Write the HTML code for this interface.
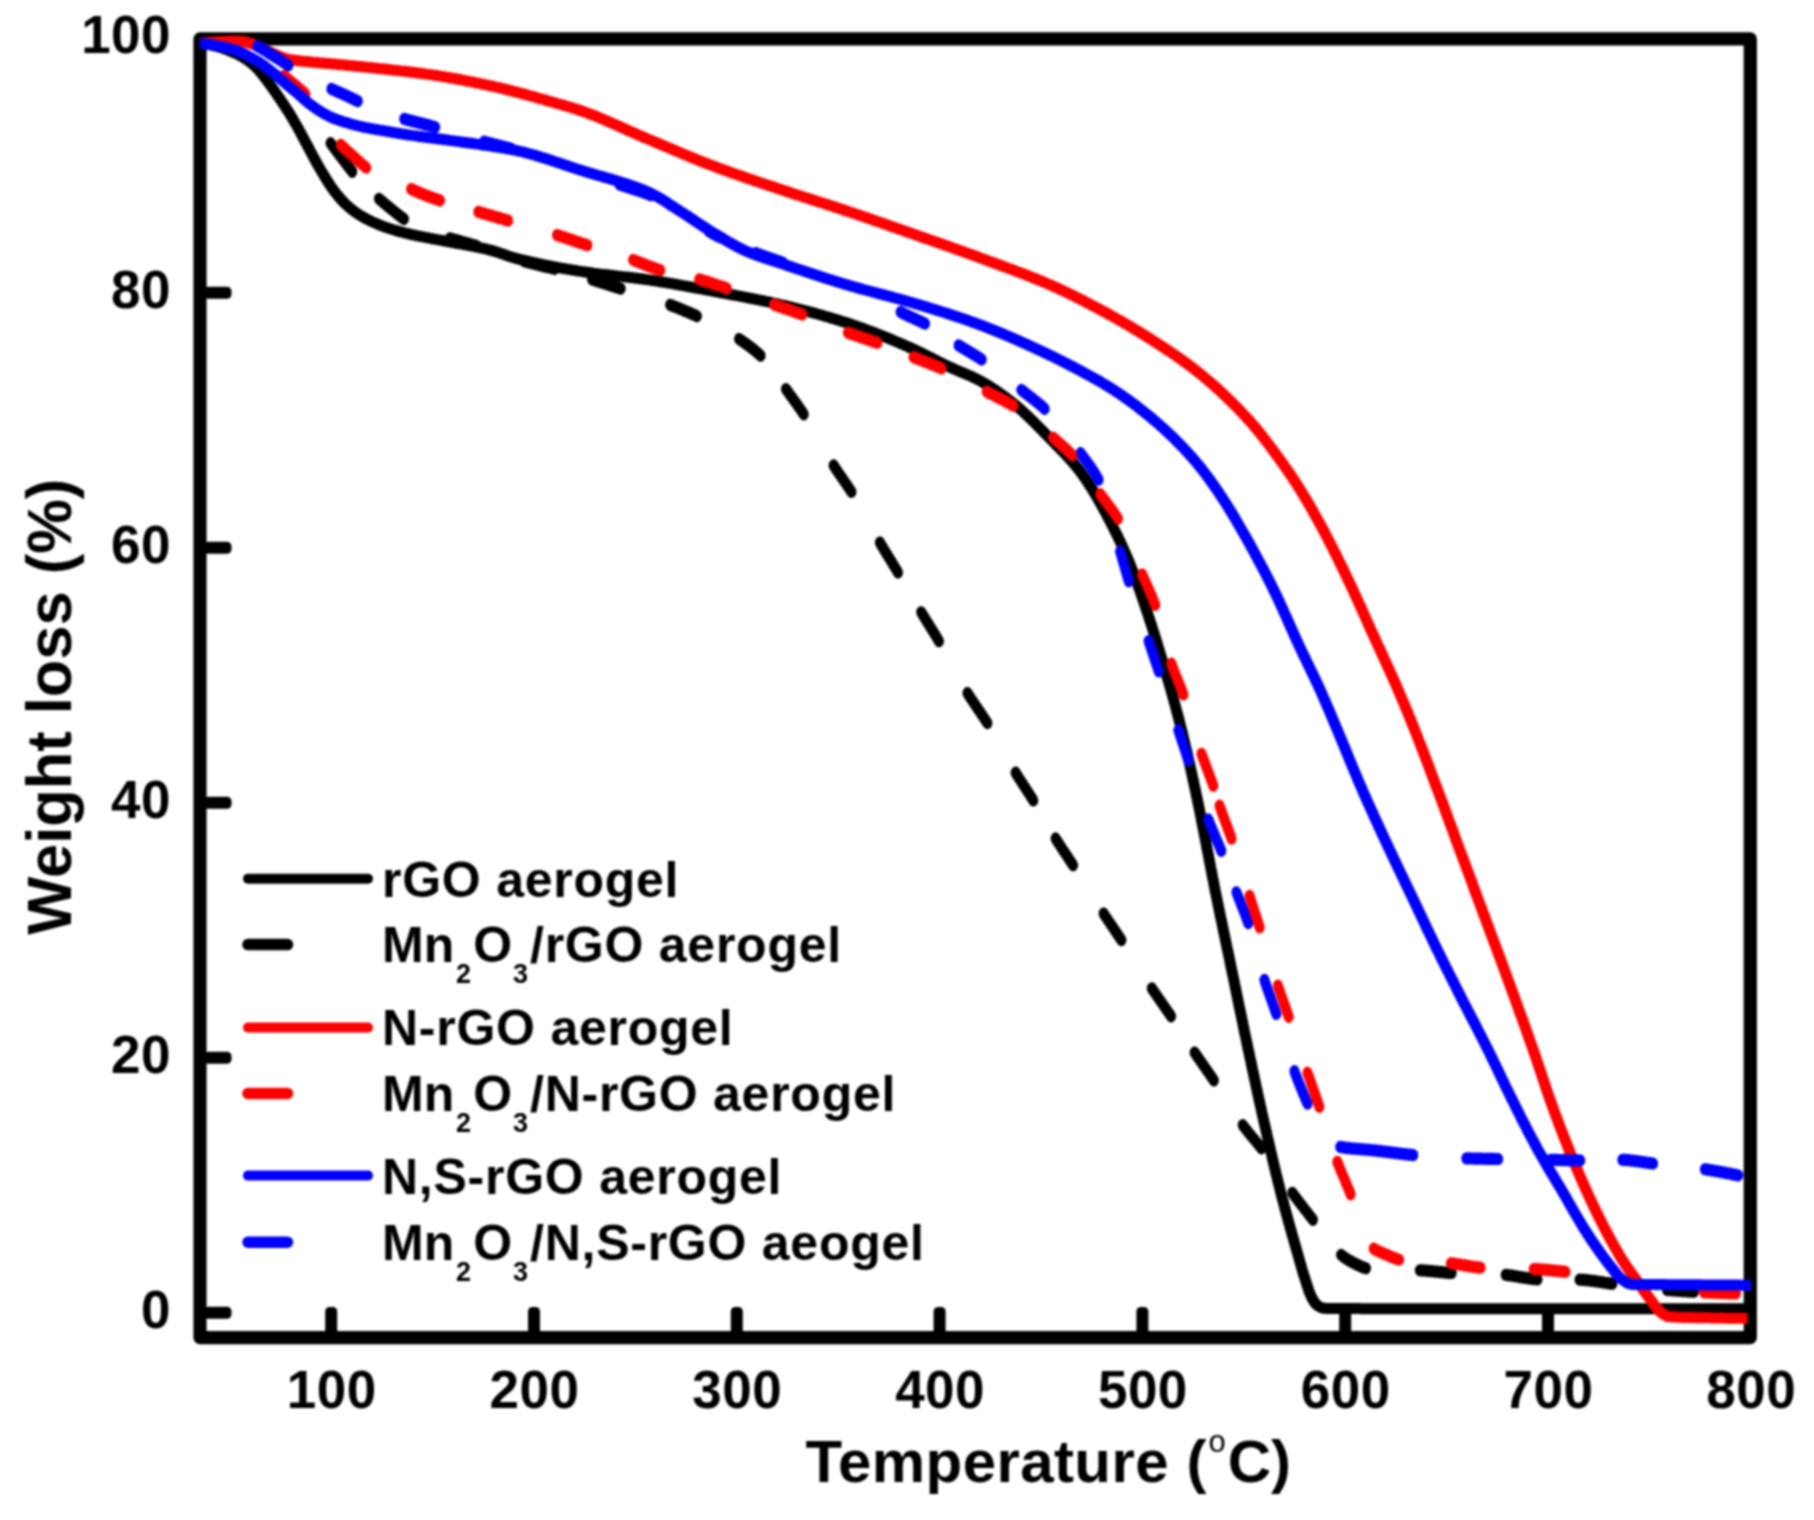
<!DOCTYPE html>
<html lang="en"><head><meta charset="utf-8"><title>TGA weight loss curves</title>
<style>html,body{margin:0;padding:0;background:#fff}svg{display:block;filter:blur(1px)}</style></head>
<body>
<svg width="1814" height="1520" viewBox="0 0 1814 1520">
<rect width="1814" height="1520" fill="#fff"/>
<g fill="#000">
<rect x="204" y="286.8" width="27.5" height="12" rx="4.5"/>
<rect x="204" y="541.8" width="27.5" height="12" rx="4.5"/>
<rect x="204" y="796.8" width="27.5" height="12" rx="4.5"/>
<rect x="204" y="1051.8" width="27.5" height="12" rx="4.5"/>
<rect x="204" y="1306.8" width="27.5" height="12" rx="4.5"/>
<rect x="325.2" y="1307" width="12" height="28" rx="4.5"/>
<rect x="528.0" y="1307" width="12" height="28" rx="4.5"/>
<rect x="730.8" y="1307" width="12" height="28" rx="4.5"/>
<rect x="933.6" y="1307" width="12" height="28" rx="4.5"/>
<rect x="1136.4" y="1307" width="12" height="28" rx="4.5"/>
<rect x="1339.2" y="1307" width="12" height="28" rx="4.5"/>
<rect x="1542.0" y="1307" width="12" height="28" rx="4.5"/>
</g>
<rect x="200.0" y="38.9" width="1550.3" height="1298.8" fill="none" stroke="#000" stroke-width="13.2" stroke-linejoin="round"/>
<clipPath id="pc"><rect x="199.6" y="30" width="1551.6" height="1312"/></clipPath>
<g clip-path="url(#pc)" fill="none" stroke-linejoin="round">
<g stroke-width="11.0" stroke-linecap="butt">
<path stroke="#000" d="M200.0 43.50L202.0 43.71L204.0 43.96L206.0 44.25L208.0 44.58L209.9 44.95L211.9 45.34L213.9 45.75L215.8 46.18L217.7 46.68L219.6 47.23L221.6 47.83L223.5 48.48L225.4 49.17L227.3 49.88L229.1 50.62L231.0 51.37L232.8 52.13L234.6 52.95L236.5 53.80L238.3 54.69L240.1 55.62L241.8 56.60L243.6 57.60L245.2 58.65L246.9 59.75L248.5 60.92L250.1 62.15L251.7 63.42L253.2 64.74L254.7 66.09L256.2 67.46L257.5 68.86L258.9 70.33L260.2 71.83L261.5 73.38L262.7 74.95L264.0 76.55L265.2 78.16L266.4 79.78L267.6 81.39L268.8 82.99L270.0 84.60L271.2 86.22L272.3 87.84L273.5 89.48L274.6 91.13L275.8 92.78L276.9 94.43L278.0 96.09L279.2 97.75L280.3 99.41L281.4 101.07L282.5 102.73L283.6 104.40L284.7 106.06L285.8 107.74L286.9 109.42L288.0 111.11L289.1 112.80L290.1 114.51L291.2 116.22L292.2 117.94L293.2 119.67L294.2 121.40L295.2 123.14L296.2 124.88L297.2 126.62L298.2 128.37L299.1 130.12L300.1 131.88L301.1 133.64L302.0 135.41L302.9 137.18L303.9 138.95L304.8 140.72L305.7 142.50L306.7 144.27L307.6 146.04L308.6 147.80L309.5 149.57L310.4 151.34L311.4 153.11L312.3 154.87L313.3 156.64L314.2 158.40L315.2 160.16L316.2 161.91L317.1 163.66L318.1 165.40L319.1 167.14L320.1 168.88L321.1 170.62L322.1 172.35L323.2 174.07L324.2 175.79L325.2 177.49L326.3 179.19L327.4 180.89L328.4 182.59L329.5 184.28L330.6 185.95L331.7 187.61L332.9 189.25L334.1 190.86L335.3 192.46L336.5 194.04L337.8 195.60L339.1 197.15L340.4 198.66L341.7 200.15L343.1 201.60L344.5 203.01L345.9 204.41L347.4 205.77L348.9 207.10L350.5 208.40L352.0 209.65L353.6 210.87L355.2 212.06L356.9 213.21L358.5 214.32L360.2 215.38L361.9 216.39L363.7 217.38L365.4 218.35L367.2 219.29L369.0 220.21L370.8 221.10L372.6 221.96L374.5 222.79L376.3 223.60L378.1 224.37L380.0 225.12L381.8 225.84L383.7 226.54L385.6 227.22L387.5 227.88L389.4 228.52L391.3 229.13L393.2 229.73L395.2 230.31L397.1 230.87L399.0 231.41L400.9 231.94L402.9 232.45L404.8 232.95L406.8 233.43L408.7 233.90L410.7 234.36L412.6 234.80L414.6 235.24L416.5 235.66L418.5 236.06L420.5 236.46L422.4 236.84L424.4 237.22L426.4 237.60L428.3 237.97L430.3 238.35L432.3 238.72L434.2 239.09L436.2 239.46L438.2 239.82L440.1 240.18L442.1 240.53L444.1 240.89L446.0 241.26L448.0 241.62L450.0 242.00L452.0 242.37L453.9 242.74L455.9 243.11L457.9 243.47L459.8 243.83L461.8 244.19L463.8 244.55L465.8 244.92L467.7 245.28L469.7 245.65L471.7 246.03L473.7 246.41L475.6 246.80L477.6 247.20L479.5 247.60L481.5 248.02L483.5 248.45L485.4 248.89L487.3 249.35L489.3 249.82L491.2 250.32L493.1 250.86L495.1 251.44L497.0 252.06L498.9 252.70L500.8 253.36L502.7 254.03L504.5 254.70L506.4 255.37L508.3 256.02L510.2 256.65L512.2 257.26L514.1 257.82L516.0 258.35L517.9 258.84L519.9 259.32L521.8 259.80L523.7 260.27L525.7 260.73L527.6 261.19L529.6 261.64L531.5 262.09L533.5 262.53L535.5 262.96L537.4 263.39L539.4 263.81L541.3 264.22L543.3 264.63L545.3 265.03L547.2 265.43L549.2 265.82L551.2 266.21L553.1 266.59L555.1 266.96L557.1 267.33L559.1 267.69L561.0 268.05L563.0 268.41L565.0 268.76L567.0 269.10L568.9 269.44L570.9 269.77L572.9 270.10L574.9 270.42L576.9 270.74L578.8 271.06L580.8 271.37L582.8 271.67L584.8 271.97L586.7 272.26L588.7 272.54L590.7 272.82L592.7 273.09L594.7 273.35L596.7 273.60L598.6 273.85L600.6 274.10L602.6 274.34L604.6 274.57L606.6 274.81L608.6 275.04L610.6 275.27L612.6 275.49L614.6 275.72L616.6 275.95L618.6 276.17L620.5 276.40L622.5 276.62L624.5 276.85L626.5 277.08L628.5 277.31L630.5 277.55L632.5 277.79L634.5 278.03L636.5 278.28L638.5 278.53L640.4 278.79L642.4 279.05L644.4 279.32L646.4 279.60L648.4 279.88L650.4 280.18L652.3 280.47L654.3 280.78L656.3 281.08L658.3 281.39L660.3 281.71L662.2 282.03L664.2 282.36L666.2 282.69L668.2 283.02L670.1 283.36L672.1 283.70L674.1 284.04L676.1 284.39L678.0 284.74L680.0 285.09L682.0 285.44L683.9 285.80L685.9 286.16L687.9 286.52L689.9 286.88L691.8 287.24L693.8 287.61L695.8 287.98L697.7 288.34L699.7 288.71L701.7 289.08L703.7 289.45L705.6 289.82L707.6 290.19L709.6 290.56L711.5 290.93L713.5 291.29L715.5 291.66L717.4 292.03L719.4 292.40L721.4 292.76L723.3 293.13L725.3 293.49L727.3 293.86L729.3 294.23L731.2 294.60L733.2 294.97L735.2 295.34L737.1 295.71L739.1 296.08L741.1 296.46L743.0 296.83L745.0 297.21L747.0 297.59L749.0 297.98L750.9 298.36L752.9 298.75L754.8 299.14L756.8 299.54L758.8 299.93L760.7 300.34L762.7 300.74L764.7 301.15L766.6 301.56L768.6 301.98L770.5 302.40L772.5 302.83L774.4 303.26L776.4 303.70L778.3 304.14L780.3 304.58L782.2 305.04L784.2 305.49L786.1 305.95L788.1 306.42L790.0 306.89L792.0 307.36L793.9 307.84L795.9 308.33L797.8 308.82L799.8 309.31L801.7 309.81L803.7 310.31L805.6 310.82L807.5 311.33L809.5 311.85L811.4 312.37L813.3 312.90L815.3 313.43L817.2 313.97L819.1 314.51L821.1 315.06L823.0 315.61L824.9 316.16L826.9 316.72L828.8 317.29L830.7 317.86L832.6 318.44L834.5 319.02L836.5 319.60L838.4 320.19L840.3 320.79L842.2 321.39L844.1 321.99L846.0 322.60L847.9 323.22L849.8 323.84L851.7 324.48L853.6 325.12L855.5 325.77L857.3 326.43L859.2 327.09L861.1 327.76L863.0 328.44L864.9 329.13L866.8 329.83L868.6 330.53L870.5 331.24L872.4 331.95L874.3 332.67L876.1 333.40L878.0 334.14L879.9 334.87L881.7 335.62L883.6 336.37L885.5 337.12L887.3 337.88L889.2 338.65L891.0 339.42L892.9 340.19L894.7 340.97L896.6 341.75L898.4 342.54L900.3 343.32L902.1 344.12L904.0 344.91L905.8 345.71L907.6 346.51L909.5 347.32L911.3 348.12L913.1 348.94L914.9 349.78L916.7 350.63L918.5 351.49L920.3 352.37L922.1 353.25L923.9 354.15L925.7 355.05L927.5 355.95L929.3 356.87L931.1 357.78L932.9 358.70L934.6 359.61L936.4 360.52L938.2 361.43L940.0 362.34L941.8 363.24L943.6 364.13L945.4 365.01L947.2 365.88L949.0 366.74L950.8 367.58L952.7 368.40L954.5 369.21L956.3 370.01L958.2 370.80L960.0 371.58L961.9 372.37L963.8 373.15L965.6 373.94L967.4 374.74L969.3 375.54L971.1 376.36L972.9 377.20L974.7 378.05L976.5 378.93L978.3 379.83L980.0 380.75L981.8 381.71L983.5 382.69L985.2 383.70L987.0 384.72L988.7 385.77L990.4 386.83L992.1 387.92L993.7 389.02L995.4 390.14L997.1 391.27L998.8 392.42L1000.4 393.58L1002.0 394.76L1003.7 395.94L1005.3 397.14L1006.9 398.35L1008.5 399.56L1010.1 400.79L1011.6 402.02L1013.2 403.26L1014.7 404.50L1016.3 405.77L1017.8 407.05L1019.3 408.35L1020.8 409.67L1022.3 411.00L1023.8 412.35L1025.2 413.71L1026.7 415.08L1028.2 416.46L1029.6 417.86L1031.0 419.26L1032.5 420.67L1033.9 422.09L1035.3 423.52L1036.7 424.95L1038.2 426.38L1039.6 427.82L1041.0 429.26L1042.4 430.70L1043.8 432.14L1045.2 433.58L1046.6 435.02L1048.0 436.45L1049.4 437.88L1050.8 439.31L1052.2 440.74L1053.6 442.17L1055.0 443.61L1056.4 445.04L1057.8 446.48L1059.3 447.92L1060.7 449.36L1062.1 450.81L1063.5 452.27L1064.9 453.73L1066.2 455.19L1067.6 456.67L1069.0 458.15L1070.3 459.64L1071.7 461.13L1073.0 462.64L1074.3 464.16L1075.5 465.69L1076.8 467.22L1078.0 468.78L1079.3 470.34L1080.4 471.92L1081.6 473.51L1082.8 475.11L1083.9 476.73L1085.0 478.36L1086.2 480.00L1087.3 481.65L1088.4 483.32L1089.4 484.99L1090.5 486.68L1091.6 488.38L1092.6 490.08L1093.7 491.79L1094.7 493.52L1095.8 495.24L1096.8 496.98L1097.8 498.72L1098.8 500.47L1099.8 502.23L1100.8 503.99L1101.8 505.75L1102.7 507.52L1103.7 509.29L1104.7 511.07L1105.6 512.85L1106.6 514.63L1107.5 516.41L1108.4 518.19L1109.4 519.98L1110.3 521.76L1111.2 523.54L1112.1 525.33L1113.0 527.11L1113.9 528.89L1114.8 530.67L1115.7 532.46L1116.6 534.25L1117.5 536.05L1118.4 537.86L1119.2 539.67L1120.1 541.48L1120.9 543.30L1121.8 545.12L1122.6 546.95L1123.4 548.78L1124.2 550.62L1125.0 552.46L1125.8 554.30L1126.6 556.14L1127.4 557.99L1128.2 559.83L1129.0 561.68L1129.7 563.54L1130.5 565.39L1131.2 567.25L1131.9 569.11L1132.7 570.97L1133.4 572.84L1134.1 574.71L1134.8 576.58L1135.5 578.46L1136.2 580.34L1136.9 582.22L1137.6 584.11L1138.2 586.00L1138.9 587.89L1139.6 589.78L1140.2 591.67L1140.9 593.56L1141.5 595.46L1142.2 597.36L1142.8 599.25L1143.5 601.15L1144.1 603.05L1144.8 604.95L1145.4 606.85L1146.0 608.75L1146.7 610.65L1147.3 612.55L1147.9 614.45L1148.6 616.35L1149.2 618.25L1149.8 620.16L1150.4 622.06L1151.1 623.97L1151.7 625.87L1152.3 627.78L1152.9 629.69L1153.5 631.60L1154.1 633.51L1154.7 635.43L1155.3 637.34L1155.9 639.25L1156.5 641.17L1157.1 643.08L1157.6 645.00L1158.2 646.92L1158.8 648.83L1159.4 650.75L1160.0 652.67L1160.5 654.59L1161.1 656.51L1161.7 658.43L1162.3 660.35L1162.8 662.27L1163.4 664.19L1164.0 666.11L1164.5 668.03L1165.1 669.95L1165.7 671.88L1166.2 673.80L1166.8 675.72L1167.3 677.65L1167.9 679.57L1168.5 681.50L1169.0 683.42L1169.6 685.35L1170.1 687.27L1170.7 689.20L1171.2 691.13L1171.8 693.06L1172.3 694.99L1172.8 696.92L1173.4 698.85L1173.9 700.78L1174.4 702.71L1175.0 704.64L1175.5 706.58L1176.0 708.51L1176.5 710.45L1177.0 712.38L1177.6 714.32L1178.1 716.26L1178.6 718.19L1179.1 720.13L1179.6 722.07L1180.1 724.01L1180.5 725.95L1181.0 727.90L1181.5 729.84L1182.0 731.78L1182.5 733.73L1182.9 735.67L1183.4 737.62L1183.9 739.57L1184.4 741.51L1184.8 743.46L1185.3 745.41L1185.7 747.36L1186.2 749.31L1186.7 751.26L1187.1 753.21L1187.6 755.17L1188.0 757.12L1188.5 759.07L1188.9 761.03L1189.3 762.98L1189.8 764.94L1190.2 766.89L1190.7 768.85L1191.1 770.80L1191.5 772.76L1192.0 774.72L1192.4 776.67L1192.8 778.63L1193.3 780.59L1193.7 782.55L1194.1 784.50L1194.5 786.46L1195.0 788.42L1195.4 790.38L1195.8 792.34L1196.2 794.30L1196.6 796.25L1197.0 798.21L1197.5 800.17L1197.9 802.13L1198.3 804.09L1198.7 806.06L1199.1 808.02L1199.5 809.98L1199.9 811.94L1200.3 813.91L1200.7 815.87L1201.1 817.84L1201.4 819.80L1201.8 821.77L1202.2 823.73L1202.6 825.70L1203.0 827.67L1203.4 829.63L1203.8 831.60L1204.2 833.56L1204.5 835.53L1204.9 837.50L1205.3 839.46L1205.7 841.43L1206.1 843.39L1206.5 845.36L1206.8 847.33L1207.2 849.29L1207.6 851.26L1208.0 853.23L1208.4 855.19L1208.7 857.16L1209.1 859.13L1209.5 861.10L1209.9 863.06L1210.2 865.03L1210.6 867.00L1211.0 868.97L1211.4 870.93L1211.8 872.90L1212.1 874.87L1212.5 876.83L1212.9 878.80L1213.3 880.77L1213.7 882.73L1214.0 884.70L1214.4 886.66L1214.8 888.63L1215.2 890.59L1215.6 892.56L1216.0 894.52L1216.4 896.48L1216.8 898.45L1217.2 900.41L1217.6 902.37L1218.0 904.34L1218.4 906.30L1218.8 908.26L1219.2 910.22L1219.6 912.18L1220.0 914.14L1220.4 916.11L1220.8 918.07L1221.3 920.03L1221.7 921.99L1222.1 923.95L1222.5 925.91L1222.9 927.87L1223.3 929.83L1223.7 931.79L1224.1 933.75L1224.5 935.71L1225.0 937.67L1225.4 939.63L1225.8 941.59L1226.2 943.56L1226.6 945.52L1227.0 947.48L1227.4 949.44L1227.8 951.40L1228.3 953.36L1228.7 955.32L1229.1 957.28L1229.5 959.24L1229.9 961.20L1230.3 963.16L1230.7 965.12L1231.1 967.08L1231.5 969.04L1231.9 971.01L1232.3 972.97L1232.8 974.93L1233.2 976.89L1233.6 978.85L1234.0 980.81L1234.4 982.78L1234.8 984.74L1235.2 986.70L1235.6 988.66L1236.0 990.62L1236.4 992.58L1236.8 994.55L1237.2 996.51L1237.6 998.47L1238.0 1000.43L1238.4 1002.39L1238.8 1004.36L1239.2 1006.32L1239.6 1008.28L1240.0 1010.24L1240.4 1012.20L1240.9 1014.17L1241.3 1016.13L1241.7 1018.09L1242.1 1020.05L1242.5 1022.01L1242.9 1023.97L1243.3 1025.93L1243.7 1027.89L1244.1 1029.86L1244.5 1031.82L1244.9 1033.78L1245.3 1035.74L1245.8 1037.70L1246.2 1039.66L1246.6 1041.62L1247.0 1043.58L1247.4 1045.54L1247.8 1047.50L1248.2 1049.46L1248.7 1051.42L1249.1 1053.37L1249.5 1055.33L1249.9 1057.29L1250.3 1059.25L1250.8 1061.21L1251.2 1063.17L1251.6 1065.13L1252.0 1067.09L1252.4 1069.05L1252.8 1071.01L1253.3 1072.96L1253.7 1074.92L1254.1 1076.88L1254.5 1078.84L1255.0 1080.80L1255.4 1082.76L1255.8 1084.71L1256.2 1086.67L1256.7 1088.63L1257.1 1090.59L1257.5 1092.54L1257.9 1094.50L1258.4 1096.46L1258.8 1098.41L1259.2 1100.37L1259.7 1102.33L1260.1 1104.28L1260.5 1106.24L1261.0 1108.20L1261.4 1110.15L1261.8 1112.11L1262.3 1114.06L1262.7 1116.01L1263.1 1117.97L1263.6 1119.92L1264.0 1121.88L1264.5 1123.83L1264.9 1125.78L1265.4 1127.74L1265.8 1129.69L1266.3 1131.64L1266.7 1133.59L1267.1 1135.55L1267.6 1137.50L1268.0 1139.45L1268.5 1141.41L1268.9 1143.36L1269.4 1145.31L1269.8 1147.26L1270.3 1149.21L1270.7 1151.17L1271.2 1153.12L1271.7 1155.07L1272.1 1157.02L1272.6 1158.97L1273.0 1160.92L1273.5 1162.87L1274.0 1164.82L1274.4 1166.77L1274.9 1168.71L1275.4 1170.66L1275.8 1172.61L1276.3 1174.56L1276.8 1176.50L1277.3 1178.45L1277.7 1180.39L1278.2 1182.34L1278.7 1184.28L1279.2 1186.22L1279.7 1188.17L1280.2 1190.11L1280.7 1192.05L1281.1 1193.99L1281.6 1195.93L1282.1 1197.87L1282.7 1199.81L1283.2 1201.74L1283.7 1203.68L1284.2 1205.62L1284.7 1207.55L1285.2 1209.49L1285.7 1211.42L1286.3 1213.35L1286.8 1215.29L1287.3 1217.22L1287.9 1219.15L1288.4 1221.08L1288.9 1223.01L1289.5 1224.94L1290.0 1226.87L1290.5 1228.80L1291.1 1230.73L1291.6 1232.66L1292.2 1234.59L1292.7 1236.52L1293.3 1238.44L1293.8 1240.37L1294.4 1242.30L1294.9 1244.22L1295.5 1246.15L1296.0 1248.08L1296.6 1250.00L1297.1 1251.93L1297.7 1253.85L1298.2 1255.78L1298.8 1257.71L1299.3 1259.64L1299.9 1261.56L1300.4 1263.49L1301.0 1265.42L1301.5 1267.35L1302.1 1269.27L1302.6 1271.19L1303.2 1273.11L1303.8 1275.03L1304.4 1276.94L1305.0 1278.85L1305.6 1280.76L1306.2 1282.66L1306.8 1284.57L1307.5 1286.50L1308.1 1288.42L1308.7 1290.33L1309.4 1292.22L1310.2 1294.07L1311.0 1295.89L1311.8 1297.66L1312.8 1299.48L1313.9 1301.29L1315.0 1302.98L1316.3 1304.43L1317.8 1305.60L1319.5 1306.73L1321.4 1307.68L1323.4 1308.24L1325.3 1308.35L1327.2 1308.42L1329.2 1308.47L1331.2 1308.52L1333.2 1308.55L1335.3 1308.57L1337.3 1308.59L1339.3 1308.60L1341.3 1308.60L1343.3 1308.60L1345.4 1308.61L1347.4 1308.61L1349.4 1308.61L1351.4 1308.61L1353.4 1308.62L1355.4 1308.62L1357.4 1308.62L1359.4 1308.62L1361.4 1308.63L1363.4 1308.63L1365.4 1308.63L1367.4 1308.63L1369.4 1308.64L1371.4 1308.64L1373.4 1308.64L1375.4 1308.64L1377.4 1308.65L1379.4 1308.65L1381.4 1308.65L1383.4 1308.65L1385.4 1308.66L1387.4 1308.66L1389.4 1308.66L1391.4 1308.66L1393.4 1308.66L1395.4 1308.67L1397.4 1308.67L1399.4 1308.67L1401.4 1308.67L1403.4 1308.67L1405.4 1308.68L1407.4 1308.68L1409.4 1308.68L1411.5 1308.68L1413.5 1308.68L1415.5 1308.69L1417.5 1308.69L1419.5 1308.69L1421.5 1308.69L1423.5 1308.69L1425.5 1308.69L1427.5 1308.70L1429.5 1308.70L1431.5 1308.70L1433.5 1308.70L1435.5 1308.70L1437.5 1308.70L1439.5 1308.71L1441.5 1308.71L1443.5 1308.71L1445.5 1308.71L1447.5 1308.71L1449.5 1308.71L1451.5 1308.72L1453.5 1308.72L1455.5 1308.72L1457.5 1308.72L1459.5 1308.72L1461.5 1308.72L1463.5 1308.72L1465.5 1308.73L1467.5 1308.73L1469.5 1308.73L1471.5 1308.73L1473.5 1308.73L1475.5 1308.73L1477.6 1308.73L1479.6 1308.74L1481.6 1308.74L1483.6 1308.74L1485.6 1308.74L1487.6 1308.74L1489.6 1308.74L1491.6 1308.74L1493.6 1308.74L1495.6 1308.75L1497.6 1308.75L1499.6 1308.75L1501.6 1308.75L1503.6 1308.75L1505.6 1308.75L1507.6 1308.75L1509.6 1308.75L1511.6 1308.75L1513.6 1308.75L1515.6 1308.76L1517.6 1308.76L1519.6 1308.76L1521.6 1308.76L1523.6 1308.76L1525.6 1308.76L1527.6 1308.76L1529.6 1308.76L1531.6 1308.76L1533.6 1308.76L1535.6 1308.77L1537.6 1308.77L1539.6 1308.77L1541.7 1308.77L1543.7 1308.77L1545.7 1308.77L1547.7 1308.77L1549.7 1308.77L1551.7 1308.77L1553.7 1308.77L1555.7 1308.77L1557.7 1308.77L1559.7 1308.77L1561.7 1308.78L1563.7 1308.78L1565.7 1308.78L1567.7 1308.78L1569.7 1308.78L1571.7 1308.78L1573.7 1308.78L1575.7 1308.78L1577.7 1308.78L1579.7 1308.78L1581.7 1308.78L1583.7 1308.78L1585.7 1308.78L1587.7 1308.78L1589.7 1308.78L1591.7 1308.78L1593.7 1308.78L1595.7 1308.79L1597.7 1308.79L1599.7 1308.79L1601.7 1308.79L1603.8 1308.79L1605.8 1308.79L1607.8 1308.79L1609.8 1308.79L1611.8 1308.79L1613.8 1308.79L1615.8 1308.79L1617.8 1308.79L1619.8 1308.79L1621.8 1308.79L1623.8 1308.79L1625.8 1308.79L1627.8 1308.79L1629.8 1308.79L1631.8 1308.79L1633.8 1308.79L1635.8 1308.79L1637.8 1308.79L1639.8 1308.79L1641.8 1308.79L1643.8 1308.79L1645.8 1308.79L1647.8 1308.79L1649.8 1308.79L1651.8 1308.80L1653.8 1308.80L1655.8 1308.80L1657.8 1308.80L1659.8 1308.80L1661.8 1308.80L1663.9 1308.80L1665.9 1308.80L1667.9 1308.80L1669.9 1308.80L1671.9 1308.80L1673.9 1308.80L1675.9 1308.80L1677.9 1308.80L1679.9 1308.80L1681.9 1308.80L1683.9 1308.80L1685.9 1308.80L1687.9 1308.80L1689.9 1308.80L1691.9 1308.80L1693.9 1308.80L1695.9 1308.80L1697.9 1308.80L1699.9 1308.80L1701.9 1308.80L1703.9 1308.80L1705.9 1308.80L1707.9 1308.80L1709.9 1308.80L1711.9 1308.80L1713.9 1308.80L1715.9 1308.80L1717.9 1308.80L1719.9 1308.80L1722.0 1308.80L1724.0 1308.80L1726.0 1308.80L1728.0 1308.80L1730.0 1308.80L1732.0 1308.80L1734.0 1308.80L1736.0 1308.80L1738.0 1308.80L1740.0 1308.80L1742.0 1308.80L1744.0 1308.80L1746.0 1308.80L1748.0 1308.80L1750.0 1308.80"/>
<path stroke="#f00" d="M200.0 43.50L202.0 43.25L204.0 43.01L206.0 42.78L208.0 42.56L210.0 42.37L212.0 42.20L214.0 42.06L216.0 41.95L218.0 41.85L220.0 41.75L222.0 41.66L224.0 41.57L226.0 41.49L228.0 41.42L230.0 41.35L232.0 41.30L234.0 41.26L236.0 41.22L238.0 41.20L240.0 41.20L241.9 41.34L243.9 41.65L245.9 42.10L247.8 42.65L249.8 43.28L251.7 43.96L253.6 44.65L255.5 45.32L257.4 45.99L259.2 46.76L261.0 47.60L262.8 48.49L264.6 49.41L266.4 50.32L268.2 51.20L270.0 52.02L271.9 52.83L273.7 53.67L275.6 54.52L277.4 55.37L279.3 56.21L281.1 57.00L283.0 57.73L284.9 58.39L286.8 58.95L288.7 59.40L290.6 59.75L292.6 60.05L294.6 60.32L296.6 60.55L298.6 60.77L300.6 60.98L302.6 61.17L304.6 61.37L306.6 61.58L308.6 61.78L310.6 61.98L312.6 62.17L314.5 62.36L316.5 62.54L318.5 62.71L320.5 62.89L322.5 63.06L324.5 63.23L326.5 63.40L328.5 63.58L330.5 63.75L332.5 63.92L334.5 64.10L336.5 64.28L338.5 64.47L340.5 64.66L342.5 64.85L344.5 65.04L346.5 65.23L348.5 65.42L350.5 65.61L352.5 65.81L354.5 66.00L356.4 66.19L358.4 66.39L360.4 66.58L362.4 66.78L364.4 66.98L366.4 67.18L368.4 67.38L370.4 67.58L372.4 67.78L374.4 67.99L376.4 68.20L378.4 68.41L380.4 68.62L382.4 68.83L384.4 69.05L386.3 69.27L388.3 69.49L390.3 69.72L392.3 69.94L394.3 70.17L396.3 70.39L398.3 70.62L400.3 70.85L402.3 71.09L404.3 71.32L406.3 71.56L408.2 71.80L410.2 72.04L412.2 72.28L414.2 72.53L416.2 72.78L418.2 73.03L420.2 73.29L422.2 73.55L424.1 73.82L426.1 74.09L428.1 74.36L430.1 74.64L432.1 74.92L434.1 75.21L436.0 75.50L438.0 75.80L440.0 76.11L442.0 76.42L444.0 76.74L445.9 77.07L447.9 77.40L449.9 77.74L451.8 78.08L453.8 78.44L455.8 78.79L457.8 79.16L459.7 79.52L461.7 79.90L463.7 80.28L465.6 80.66L467.6 81.05L469.6 81.44L471.5 81.83L473.5 82.23L475.5 82.63L477.4 83.04L479.4 83.45L481.4 83.86L483.3 84.27L485.3 84.69L487.2 85.11L489.2 85.53L491.2 85.95L493.1 86.38L495.1 86.82L497.0 87.27L499.0 87.72L500.9 88.19L502.9 88.65L504.8 89.13L506.8 89.61L508.7 90.09L510.6 90.58L512.6 91.07L514.5 91.57L516.5 92.07L518.4 92.57L520.3 93.08L522.3 93.60L524.2 94.12L526.1 94.65L528.1 95.19L530.0 95.72L531.9 96.26L533.9 96.81L535.8 97.36L537.7 97.91L539.6 98.46L541.6 99.01L543.5 99.57L545.4 100.12L547.3 100.67L549.3 101.22L551.2 101.77L553.1 102.32L555.1 102.87L557.0 103.42L558.9 103.97L560.9 104.52L562.8 105.08L564.7 105.64L566.6 106.21L568.6 106.78L570.5 107.36L572.4 107.95L574.3 108.55L576.2 109.16L578.1 109.78L580.0 110.41L581.9 111.06L583.8 111.71L585.6 112.39L587.5 113.07L589.4 113.77L591.3 114.48L593.1 115.21L595.0 115.94L596.8 116.69L598.7 117.44L600.5 118.21L602.4 118.98L604.2 119.76L606.1 120.55L607.9 121.35L609.7 122.15L611.6 122.95L613.4 123.77L615.3 124.58L617.1 125.40L618.9 126.22L620.7 127.04L622.6 127.87L624.4 128.69L626.2 129.52L628.1 130.35L629.9 131.17L631.7 131.99L633.6 132.81L635.4 133.63L637.2 134.44L639.1 135.25L640.9 136.06L642.8 136.86L644.6 137.65L646.4 138.43L648.3 139.21L650.1 139.98L652.0 140.76L653.8 141.53L655.7 142.31L657.5 143.09L659.4 143.87L661.2 144.65L663.1 145.43L664.9 146.22L666.7 147.00L668.6 147.78L670.4 148.56L672.3 149.34L674.1 150.12L676.0 150.90L677.8 151.68L679.7 152.46L681.5 153.23L683.4 154.00L685.2 154.77L687.1 155.54L688.9 156.31L690.8 157.07L692.6 157.83L694.5 158.59L696.3 159.34L698.2 160.09L700.1 160.84L701.9 161.58L703.8 162.32L705.6 163.05L707.5 163.78L709.4 164.51L711.2 165.22L713.1 165.94L715.0 166.65L716.9 167.35L718.7 168.05L720.6 168.74L722.5 169.43L724.4 170.12L726.3 170.80L728.1 171.48L730.0 172.16L731.9 172.83L733.8 173.50L735.7 174.17L737.6 174.83L739.5 175.49L741.4 176.15L743.3 176.81L745.1 177.46L747.0 178.11L748.9 178.76L750.8 179.41L752.7 180.06L754.6 180.70L756.5 181.34L758.4 181.99L760.3 182.63L762.2 183.27L764.1 183.91L766.0 184.54L767.9 185.18L769.8 185.82L771.7 186.46L773.6 187.09L775.5 187.73L777.4 188.37L779.3 189.01L781.2 189.64L783.1 190.28L785.0 190.91L786.9 191.54L788.8 192.17L790.7 192.79L792.6 193.42L794.5 194.04L796.4 194.66L798.4 195.27L800.3 195.89L802.2 196.51L804.1 197.12L806.0 197.73L807.9 198.34L809.8 198.95L811.7 199.56L813.6 200.18L815.5 200.79L817.4 201.40L819.3 202.01L821.2 202.62L823.2 203.23L825.1 203.84L827.0 204.46L828.9 205.07L830.8 205.69L832.7 206.31L834.6 206.93L836.5 207.55L838.4 208.18L840.3 208.80L842.2 209.43L844.1 210.07L846.0 210.70L847.9 211.34L849.8 211.98L851.7 212.62L853.6 213.26L855.5 213.91L857.4 214.55L859.3 215.20L861.2 215.85L863.1 216.50L865.0 217.16L866.9 217.81L868.8 218.46L870.7 219.12L872.5 219.78L874.4 220.43L876.3 221.09L878.2 221.75L880.1 222.41L882.0 223.07L883.9 223.73L885.8 224.40L887.7 225.06L889.6 225.72L891.5 226.39L893.3 227.05L895.2 227.72L897.1 228.38L899.0 229.05L900.9 229.71L902.8 230.38L904.7 231.04L906.6 231.71L908.5 232.37L910.4 233.04L912.2 233.70L914.1 234.37L916.0 235.03L917.9 235.69L919.8 236.35L921.7 237.02L923.6 237.68L925.5 238.34L927.4 239.00L929.3 239.67L931.2 240.33L933.0 240.99L934.9 241.66L936.8 242.32L938.7 242.98L940.6 243.65L942.5 244.31L944.4 244.98L946.3 245.64L948.2 246.31L950.1 246.98L951.9 247.65L953.8 248.32L955.7 248.99L957.6 249.66L959.5 250.34L961.4 251.01L963.3 251.69L965.2 252.37L967.0 253.05L968.9 253.73L970.8 254.42L972.7 255.10L974.6 255.79L976.4 256.48L978.3 257.18L980.2 257.87L982.1 258.56L984.0 259.26L985.8 259.95L987.7 260.64L989.6 261.33L991.5 262.02L993.4 262.71L995.3 263.40L997.1 264.09L999.0 264.78L1000.9 265.48L1002.8 266.17L1004.7 266.86L1006.6 267.56L1008.4 268.26L1010.3 268.96L1012.2 269.66L1014.1 270.37L1015.9 271.08L1017.8 271.79L1019.7 272.50L1021.6 273.22L1023.4 273.94L1025.3 274.66L1027.2 275.39L1029.0 276.12L1030.9 276.86L1032.8 277.60L1034.6 278.35L1036.5 279.10L1038.3 279.86L1040.2 280.62L1042.0 281.39L1043.9 282.17L1045.7 282.95L1047.5 283.73L1049.4 284.53L1051.2 285.33L1053.0 286.14L1054.9 286.95L1056.7 287.78L1058.5 288.61L1060.3 289.45L1062.1 290.30L1063.9 291.16L1065.8 292.02L1067.6 292.88L1069.4 293.76L1071.2 294.64L1073.0 295.52L1074.8 296.41L1076.6 297.31L1078.4 298.21L1080.1 299.12L1081.9 300.03L1083.7 300.94L1085.5 301.86L1087.3 302.78L1089.1 303.71L1090.8 304.64L1092.6 305.57L1094.4 306.51L1096.2 307.45L1097.9 308.39L1099.7 309.33L1101.4 310.28L1103.2 311.23L1105.0 312.18L1106.7 313.14L1108.5 314.11L1110.2 315.08L1112.0 316.05L1113.7 317.03L1115.5 318.01L1117.2 319.00L1119.0 319.99L1120.7 320.99L1122.5 321.99L1124.2 323.00L1125.9 324.01L1127.7 325.02L1129.4 326.04L1131.1 327.06L1132.8 328.09L1134.5 329.12L1136.3 330.16L1138.0 331.20L1139.7 332.25L1141.4 333.30L1143.1 334.35L1144.8 335.41L1146.5 336.48L1148.2 337.54L1149.9 338.61L1151.6 339.69L1153.2 340.77L1154.9 341.85L1156.6 342.94L1158.3 344.03L1160.0 345.12L1161.7 346.22L1163.3 347.32L1165.0 348.43L1166.7 349.54L1168.4 350.65L1170.0 351.77L1171.7 352.90L1173.4 354.03L1175.0 355.17L1176.7 356.31L1178.3 357.46L1180.0 358.62L1181.6 359.78L1183.2 360.95L1184.9 362.12L1186.5 363.30L1188.1 364.49L1189.7 365.69L1191.3 366.89L1192.9 368.11L1194.5 369.33L1196.0 370.55L1197.6 371.79L1199.1 373.03L1200.7 374.29L1202.2 375.55L1203.8 376.82L1205.3 378.10L1206.8 379.39L1208.3 380.69L1209.9 381.99L1211.4 383.31L1212.9 384.63L1214.4 385.96L1215.9 387.30L1217.4 388.65L1218.9 390.00L1220.3 391.36L1221.8 392.73L1223.3 394.11L1224.8 395.49L1226.2 396.88L1227.7 398.27L1229.1 399.67L1230.6 401.08L1232.0 402.49L1233.4 403.91L1234.8 405.34L1236.2 406.77L1237.7 408.20L1239.1 409.64L1240.4 411.09L1241.8 412.54L1243.2 414.00L1244.6 415.46L1245.9 416.92L1247.3 418.39L1248.6 419.86L1250.0 421.34L1251.3 422.83L1252.6 424.33L1253.9 425.85L1255.2 427.37L1256.5 428.91L1257.7 430.46L1259.0 432.02L1260.3 433.58L1261.5 435.15L1262.7 436.73L1264.0 438.32L1265.2 439.91L1266.4 441.51L1267.6 443.11L1268.9 444.71L1270.1 446.32L1271.3 447.92L1272.5 449.53L1273.7 451.14L1274.8 452.74L1276.0 454.35L1277.2 455.97L1278.4 457.58L1279.6 459.21L1280.8 460.83L1281.9 462.46L1283.1 464.10L1284.2 465.74L1285.4 467.38L1286.5 469.02L1287.7 470.67L1288.8 472.33L1289.9 473.98L1291.1 475.65L1292.2 477.31L1293.3 478.98L1294.4 480.65L1295.5 482.33L1296.6 484.01L1297.7 485.70L1298.7 487.38L1299.8 489.08L1300.8 490.78L1301.9 492.48L1302.9 494.19L1304.0 495.90L1305.0 497.62L1306.0 499.34L1307.0 501.06L1308.1 502.79L1309.1 504.53L1310.1 506.26L1311.1 508.00L1312.1 509.74L1313.1 511.49L1314.0 513.24L1315.0 514.99L1316.0 516.74L1317.0 518.50L1317.9 520.25L1318.9 522.01L1319.9 523.77L1320.8 525.53L1321.8 527.30L1322.7 529.06L1323.7 530.82L1324.6 532.59L1325.5 534.36L1326.5 536.13L1327.4 537.90L1328.3 539.68L1329.2 541.46L1330.2 543.24L1331.1 545.02L1332.0 546.81L1332.9 548.60L1333.8 550.39L1334.7 552.18L1335.6 553.97L1336.5 555.77L1337.4 557.57L1338.2 559.36L1339.1 561.16L1340.0 562.96L1340.9 564.77L1341.8 566.57L1342.6 568.37L1343.5 570.18L1344.4 571.98L1345.2 573.79L1346.1 575.60L1347.0 577.40L1347.8 579.21L1348.7 581.02L1349.6 582.83L1350.4 584.64L1351.3 586.45L1352.1 588.27L1353.0 590.08L1353.8 591.90L1354.6 593.72L1355.5 595.54L1356.3 597.36L1357.1 599.19L1358.0 601.01L1358.8 602.84L1359.6 604.66L1360.4 606.49L1361.3 608.32L1362.1 610.14L1362.9 611.97L1363.7 613.80L1364.5 615.63L1365.4 617.46L1366.2 619.29L1367.0 621.11L1367.8 622.94L1368.6 624.77L1369.5 626.60L1370.3 628.43L1371.1 630.25L1371.9 632.08L1372.8 633.91L1373.6 635.73L1374.4 637.55L1375.2 639.38L1376.1 641.20L1376.9 643.02L1377.7 644.84L1378.6 646.66L1379.4 648.49L1380.3 650.31L1381.1 652.13L1381.9 653.95L1382.8 655.77L1383.6 657.59L1384.4 659.41L1385.3 661.23L1386.1 663.05L1386.9 664.88L1387.8 666.70L1388.6 668.52L1389.4 670.35L1390.3 672.17L1391.1 674.00L1391.9 675.83L1392.7 677.65L1393.5 679.48L1394.4 681.31L1395.2 683.14L1396.0 684.98L1396.8 686.81L1397.6 688.65L1398.4 690.48L1399.2 692.32L1400.0 694.16L1400.7 696.00L1401.5 697.85L1402.3 699.69L1403.1 701.54L1403.9 703.38L1404.6 705.23L1405.4 707.08L1406.2 708.93L1407.0 710.78L1407.7 712.64L1408.5 714.49L1409.2 716.35L1410.0 718.20L1410.7 720.06L1411.5 721.92L1412.2 723.78L1413.0 725.64L1413.7 727.50L1414.5 729.36L1415.2 731.22L1415.9 733.08L1416.7 734.95L1417.4 736.81L1418.1 738.68L1418.8 740.55L1419.6 742.42L1420.3 744.28L1421.0 746.15L1421.7 748.02L1422.5 749.89L1423.2 751.76L1423.9 753.64L1424.6 755.51L1425.3 757.38L1426.0 759.25L1426.7 761.12L1427.5 763.00L1428.2 764.87L1428.9 766.75L1429.6 768.62L1430.3 770.49L1431.0 772.37L1431.7 774.24L1432.4 776.12L1433.1 777.99L1433.8 779.87L1434.5 781.74L1435.2 783.62L1435.9 785.49L1436.7 787.37L1437.4 789.24L1438.1 791.12L1438.8 792.99L1439.5 794.87L1440.2 796.74L1440.9 798.62L1441.6 800.50L1442.3 802.38L1443.0 804.26L1443.7 806.13L1444.4 808.01L1445.1 809.89L1445.7 811.77L1446.4 813.65L1447.1 815.53L1447.8 817.41L1448.5 819.29L1449.2 821.17L1449.9 823.05L1450.6 824.93L1451.3 826.81L1452.0 828.69L1452.7 830.57L1453.4 832.45L1454.1 834.33L1454.7 836.21L1455.4 838.09L1456.1 839.97L1456.8 841.85L1457.5 843.73L1458.2 845.61L1458.9 847.49L1459.6 849.37L1460.3 851.25L1461.0 853.13L1461.7 855.01L1462.4 856.88L1463.1 858.76L1463.8 860.64L1464.5 862.52L1465.2 864.40L1465.9 866.27L1466.6 868.15L1467.3 870.03L1468.0 871.91L1468.7 873.79L1469.4 875.66L1470.1 877.54L1470.8 879.42L1471.5 881.30L1472.2 883.18L1472.9 885.05L1473.5 886.93L1474.2 888.81L1474.9 890.69L1475.6 892.56L1476.3 894.44L1477.0 896.32L1477.7 898.20L1478.4 900.08L1479.1 901.95L1479.8 903.83L1480.5 905.71L1481.2 907.59L1481.9 909.46L1482.6 911.34L1483.3 913.22L1484.0 915.10L1484.7 916.98L1485.4 918.86L1486.1 920.73L1486.8 922.61L1487.5 924.49L1488.2 926.37L1488.9 928.25L1489.6 930.12L1490.3 932.00L1491.0 933.88L1491.7 935.76L1492.4 937.63L1493.1 939.51L1493.8 941.39L1494.5 943.27L1495.2 945.15L1495.9 947.02L1496.6 948.90L1497.3 950.78L1498.0 952.66L1498.7 954.53L1499.4 956.41L1500.1 958.29L1500.8 960.17L1501.5 962.05L1502.2 963.93L1502.9 965.81L1503.6 967.68L1504.3 969.56L1504.9 971.44L1505.6 973.32L1506.3 975.20L1507.0 977.08L1507.7 978.96L1508.4 980.85L1509.1 982.73L1509.8 984.61L1510.5 986.49L1511.1 988.37L1511.8 990.26L1512.5 992.14L1513.2 994.02L1513.9 995.91L1514.6 997.79L1515.3 999.67L1515.9 1001.56L1516.6 1003.44L1517.3 1005.32L1518.0 1007.21L1518.7 1009.09L1519.3 1010.98L1520.0 1012.86L1520.7 1014.74L1521.4 1016.63L1522.1 1018.52L1522.7 1020.40L1523.4 1022.29L1524.1 1024.17L1524.8 1026.06L1525.4 1027.95L1526.1 1029.83L1526.8 1031.72L1527.5 1033.61L1528.1 1035.50L1528.8 1037.38L1529.5 1039.27L1530.1 1041.16L1530.8 1043.05L1531.5 1044.94L1532.1 1046.83L1532.8 1048.72L1533.4 1050.61L1534.1 1052.51L1534.8 1054.40L1535.4 1056.29L1536.1 1058.18L1536.7 1060.08L1537.4 1061.98L1538.0 1063.88L1538.6 1065.78L1539.3 1067.68L1539.9 1069.58L1540.5 1071.48L1541.2 1073.39L1541.8 1075.29L1542.4 1077.20L1543.0 1079.10L1543.7 1081.00L1544.3 1082.91L1544.9 1084.81L1545.6 1086.71L1546.2 1088.61L1546.8 1090.50L1547.5 1092.40L1548.1 1094.29L1548.8 1096.18L1549.5 1098.07L1550.1 1099.96L1550.8 1101.84L1551.5 1103.73L1552.2 1105.61L1552.8 1107.49L1553.5 1109.38L1554.2 1111.26L1554.9 1113.14L1555.6 1115.02L1556.3 1116.90L1557.0 1118.78L1557.7 1120.65L1558.4 1122.53L1559.1 1124.41L1559.8 1126.28L1560.5 1128.15L1561.3 1130.03L1562.0 1131.90L1562.7 1133.77L1563.4 1135.64L1564.2 1137.51L1564.9 1139.37L1565.6 1141.24L1566.4 1143.10L1567.1 1144.96L1567.8 1146.83L1568.6 1148.69L1569.3 1150.54L1570.1 1152.40L1570.8 1154.26L1571.6 1156.11L1572.4 1157.96L1573.1 1159.81L1573.9 1161.66L1574.7 1163.51L1575.4 1165.36L1576.2 1167.20L1577.0 1169.05L1577.8 1170.89L1578.5 1172.73L1579.3 1174.58L1580.1 1176.42L1580.9 1178.26L1581.7 1180.10L1582.5 1181.93L1583.3 1183.77L1584.1 1185.61L1585.0 1187.44L1585.8 1189.27L1586.6 1191.10L1587.4 1192.93L1588.3 1194.75L1589.1 1196.58L1589.9 1198.40L1590.8 1200.22L1591.6 1202.03L1592.5 1203.85L1593.3 1205.66L1594.2 1207.47L1595.1 1209.27L1595.9 1211.07L1596.8 1212.87L1597.7 1214.67L1598.6 1216.46L1599.5 1218.25L1600.4 1220.03L1601.3 1221.82L1602.2 1223.61L1603.1 1225.39L1604.0 1227.17L1604.9 1228.95L1605.9 1230.73L1606.8 1232.51L1607.7 1234.29L1608.7 1236.06L1609.6 1237.83L1610.6 1239.59L1611.6 1241.35L1612.5 1243.11L1613.5 1244.86L1614.5 1246.61L1615.5 1248.36L1616.5 1250.09L1617.5 1251.83L1618.5 1253.55L1619.5 1255.27L1620.6 1256.98L1621.6 1258.69L1622.7 1260.39L1623.7 1262.08L1624.8 1263.76L1625.9 1265.43L1627.0 1267.08L1628.2 1268.72L1629.3 1270.35L1630.5 1271.98L1631.7 1273.59L1632.9 1275.21L1634.1 1276.82L1635.3 1278.44L1636.4 1280.07L1637.6 1281.70L1638.8 1283.33L1639.9 1284.97L1641.1 1286.62L1642.2 1288.26L1643.4 1289.90L1644.5 1291.53L1645.7 1293.16L1646.9 1294.78L1648.1 1296.39L1649.3 1297.98L1650.5 1299.60L1651.7 1301.26L1652.9 1302.96L1654.1 1304.65L1655.3 1306.31L1656.5 1307.92L1657.8 1309.44L1659.2 1310.87L1660.6 1312.16L1662.1 1313.30L1663.8 1314.47L1665.6 1315.56L1667.5 1316.37L1669.4 1316.72L1671.3 1316.84L1673.2 1316.96L1675.1 1317.06L1677.0 1317.15L1679.0 1317.24L1681.0 1317.31L1683.0 1317.38L1685.0 1317.44L1687.0 1317.49L1689.0 1317.54L1691.1 1317.58L1693.1 1317.62L1695.2 1317.65L1697.2 1317.68L1699.3 1317.72L1701.3 1317.74L1703.3 1317.77L1705.4 1317.80L1707.4 1317.83L1709.4 1317.87L1711.4 1317.90L1713.4 1317.94L1715.4 1317.98L1717.5 1318.01L1719.5 1318.04L1721.5 1318.08L1723.5 1318.11L1725.5 1318.14L1727.5 1318.17L1729.5 1318.20L1731.5 1318.23L1733.5 1318.26L1735.5 1318.28L1737.5 1318.31L1739.5 1318.33L1741.5 1318.35L1743.5 1318.37L1745.5 1318.38L1747.5 1318.40"/>
</g>
<g stroke-width="10.0" stroke-linecap="round" transform="scale(1 1.220)">
<path stroke="#00f" d="M257.5 38.01L258.4 38.34L259.3 38.70L260.1 39.08L261.0 39.48L261.9 39.90L262.8 40.33L263.7 40.77L264.5 41.22L265.4 41.68L266.3 42.14L267.2 42.61L268.0 43.07L268.9 43.52L269.7 43.97L270.6 44.41L271.5 44.83L272.3 45.24L273.2 45.66L274.1 46.08L274.9 46.50L275.8 46.93L276.6 47.37L277.5 47.80L278.3 48.25L279.1 48.69L280.0 49.14L280.8 49.59L281.7 50.04L282.5 50.49L283.3 50.94L284.2 51.39L285.0 51.84L285.8 52.29L286.7 52.74L287.5 53.19L288.4 53.63 M331.4 72.88L332.3 73.22L333.2 73.56L334.1 73.90L335.0 74.23L335.9 74.57L336.9 74.90L337.8 75.23L338.7 75.56L339.6 75.89L340.5 76.22L341.4 76.56L342.3 76.89L343.3 77.23L344.2 77.56L345.1 77.90L346.0 78.25L346.9 78.60L347.8 78.95L348.7 79.31L349.6 79.68L350.5 80.04L351.4 80.41L352.3 80.77L353.2 81.13L354.1 81.49L355.0 81.85L355.9 82.20L356.8 82.54L357.8 82.87 M404.2 97.45L405.2 97.68L406.2 97.90L407.1 98.11L408.1 98.33L409.1 98.53L410.0 98.74L411.0 98.94L412.0 99.14L413.0 99.34L413.9 99.54L414.9 99.74L415.9 99.94L416.9 100.14L417.8 100.35L418.8 100.56L419.8 100.77L420.8 100.99L421.7 101.21L422.7 101.42L423.6 101.64L424.6 101.85L425.6 102.07L426.5 102.28L427.5 102.50L428.5 102.71L429.4 102.92L430.4 103.14L431.4 103.36L432.3 103.57L433.3 103.79L434.3 104.01L435.2 104.23 M484.1 116.15L485.1 116.36L486.1 116.57L487.0 116.78L488.0 116.98L489.0 117.19L490.0 117.39L490.9 117.60L491.9 117.80L492.9 118.00L493.8 118.20L494.8 118.40L495.8 118.60L496.7 118.80L497.7 119.00L498.7 119.20L499.7 119.40L500.6 119.60L501.6 119.80L502.6 120.01L503.5 120.21L504.5 120.41L505.5 120.62L506.4 120.82L507.4 121.03L508.4 121.24L509.4 121.45L510.3 121.66L511.3 121.87 M619.6 151.27L620.5 151.53L621.5 151.78L622.4 152.04L623.4 152.29L624.3 152.54L625.3 152.79L626.3 153.05L627.2 153.30L628.2 153.55L629.2 153.80L630.1 154.05L631.1 154.30L632.0 154.55L633.0 154.80L633.9 155.05L634.9 155.31L635.9 155.56L636.8 155.82L637.8 156.08L638.7 156.34L639.7 156.60L640.6 156.87L641.6 157.13L642.5 157.41L643.5 157.68L644.4 157.96L645.3 158.24L646.3 158.53L647.2 158.81L648.1 159.11L649.0 159.40L650.0 159.71L650.9 160.01 M708.6 189.37L709.5 189.80L710.3 190.22L711.2 190.63L712.1 191.04L712.9 191.45L713.8 191.85L714.7 192.24L715.5 192.63L716.4 193.02L717.3 193.40L718.2 193.78L719.1 194.16L719.9 194.54 M755.7 207.46L756.6 207.74L757.5 208.02L758.5 208.30L759.4 208.58L760.4 208.86L761.3 209.14L762.2 209.41L763.2 209.68L764.1 209.96L765.1 210.23L766.0 210.50L767.0 210.77L767.9 211.04L768.9 211.31L769.8 211.58L770.8 211.85L771.7 212.12L772.6 212.39L773.6 212.66L774.5 212.93L775.5 213.20L776.4 213.47L777.4 213.75L778.3 214.02L779.3 214.30L780.2 214.58L781.1 214.86L782.1 215.14L783.0 215.42 M900.6 255.73L901.4 256.12L902.3 256.49L903.2 256.87L904.1 257.23L905.0 257.60L905.9 257.96L906.8 258.31L907.7 258.66L908.6 259.01L909.5 259.36L910.4 259.71L911.4 260.05L912.3 260.40L913.2 260.74L914.1 261.08L915.0 261.42L915.9 261.77L916.8 262.11L917.8 262.46L918.7 262.80L919.6 263.15L920.5 263.51L921.4 263.86L922.3 264.22L923.2 264.58L924.1 264.95L925.0 265.32 M958.6 283.07L959.5 283.50L960.3 283.93L961.2 284.35L962.0 284.78L962.9 285.20L963.7 285.62L964.6 286.05L965.5 286.47L966.3 286.89L967.2 287.31L968.0 287.73L968.9 288.15L969.8 288.57L970.6 288.99L971.5 289.42L972.3 289.84L973.2 290.26L974.1 290.69L974.9 291.12L975.8 291.55L976.6 291.98L977.5 292.41L978.3 292.85L979.2 293.28L980.0 293.72L980.8 294.17L981.7 294.61 M1021.3 319.62L1022.1 320.12L1022.9 320.63L1023.7 321.13L1024.5 321.64L1025.3 322.14L1026.1 322.64L1026.9 323.15L1027.7 323.65L1028.5 324.16L1029.3 324.66L1030.1 325.17L1030.9 325.67L1031.7 326.18L1032.5 326.69L1033.3 327.20L1034.1 327.71L1034.8 328.22L1035.6 328.74L1036.4 329.25L1037.2 329.77L1038.0 330.30L1038.7 330.82L1039.5 331.35L1040.3 331.87L1041.0 332.41L1041.8 332.94L1042.5 333.48L1043.3 334.02L1044.0 334.57L1044.7 335.12 M1080.4 371.47L1081.0 372.13L1081.7 372.79L1082.3 373.46L1082.9 374.12L1083.5 374.79L1084.1 375.45L1084.7 376.12L1085.3 376.79L1085.9 377.45L1086.5 378.12L1087.2 378.79L1087.8 379.46L1088.4 380.14L1089.0 380.81L1089.6 381.49L1090.2 382.16L1090.7 382.84L1091.3 383.52L1091.9 384.20L1092.5 384.88L1093.0 385.57L1093.6 386.26L1094.1 386.95L1094.7 387.64L1095.2 388.33L1095.7 389.03L1096.2 389.72L1096.7 390.43L1097.2 391.13L1097.7 391.84L1098.2 392.54L1098.6 393.26 M1120.1 452.02L1120.4 452.80L1120.7 453.59L1121.0 454.38L1121.3 455.17L1121.5 455.96L1121.8 456.75L1122.1 457.54L1122.4 458.32L1122.6 459.11L1122.9 459.90L1123.2 460.69L1123.5 461.48L1123.7 462.27L1124.0 463.06L1124.3 463.84L1124.6 464.63L1124.8 465.42L1125.1 466.21L1125.4 467.00L1125.7 467.78L1126.0 468.57L1126.2 469.36L1126.5 470.15L1126.8 470.93L1127.1 471.72L1127.4 472.51L1127.6 473.29L1127.9 474.08L1128.2 474.87L1128.5 475.65L1128.8 476.44 M1148.6 525.49L1148.9 526.27L1149.2 527.04L1149.6 527.82L1149.9 528.60L1150.2 529.38L1150.5 530.15L1150.8 530.93L1151.1 531.71L1151.5 532.49L1151.8 533.27L1152.1 534.04L1152.4 534.82L1152.7 535.60L1153.0 536.38L1153.4 537.16L1153.7 537.93L1154.0 538.71L1154.3 539.49L1154.6 540.27L1154.9 541.04L1155.3 541.82L1155.6 542.60L1155.9 543.38L1156.2 544.16L1156.5 544.93L1156.9 545.71L1157.2 546.49L1157.5 547.27L1157.8 548.05L1158.1 548.82L1158.4 549.60L1158.8 550.38 M1178.3 598.63L1178.7 599.41L1179.0 600.18L1179.3 600.96L1179.6 601.74L1179.9 602.52L1180.3 603.29L1180.6 604.07L1180.9 604.85L1181.2 605.63L1181.5 606.41L1181.8 607.18L1182.2 607.96L1182.5 608.74L1182.8 609.52L1183.1 610.29L1183.4 611.07L1183.8 611.85L1184.1 612.63L1184.4 613.40L1184.7 614.18L1185.0 614.96L1185.3 615.74L1185.7 616.51L1186.0 617.29L1186.3 618.07L1186.6 618.85L1186.9 619.62L1187.3 620.40L1187.6 621.18L1187.9 621.96L1188.2 622.74L1188.5 623.51 M1208.3 671.70L1208.7 672.46L1209.0 673.23L1209.4 673.99L1209.8 674.75L1210.2 675.51L1210.5 676.27L1210.9 677.03L1211.3 677.79L1211.7 678.55L1212.1 679.30L1212.4 680.06L1212.8 680.82L1213.2 681.58L1213.6 682.33L1214.0 683.09L1214.4 683.84L1214.8 684.60L1215.2 685.36L1215.5 686.11L1215.9 686.87L1216.3 687.62L1216.7 688.38L1217.1 689.14L1217.5 689.89L1217.9 690.65L1218.3 691.41L1218.7 692.16L1219.0 692.92L1219.4 693.68L1219.8 694.44L1220.2 695.20L1220.6 695.96L1220.9 696.72L1221.3 697.48 M1236.4 731.37L1236.8 732.14L1237.2 732.90L1237.5 733.67L1237.9 734.43L1238.2 735.20L1238.6 735.97L1239.0 736.73L1239.3 737.49L1239.7 738.26L1240.1 739.02L1240.4 739.79L1240.8 740.55L1241.2 741.32L1241.5 742.08L1241.9 742.84L1242.3 743.61L1242.6 744.37L1243.0 745.14L1243.4 745.90L1243.7 746.67L1244.1 747.44L1244.4 748.20L1244.8 748.97L1245.2 749.74L1245.5 750.50L1245.9 751.27L1246.2 752.04L1246.5 752.81L1246.9 753.58L1247.2 754.35L1247.6 755.12L1247.9 755.90L1248.2 756.67 M1264.4 803.19L1264.7 803.97L1265.0 804.74L1265.3 805.52L1265.6 806.30L1266.0 807.08L1266.3 807.85L1266.6 808.63L1266.9 809.40L1267.3 810.18L1267.6 810.95L1267.9 811.73L1268.3 812.50L1268.6 813.28L1268.9 814.05L1269.3 814.82L1269.6 815.60L1269.9 816.37L1270.3 817.14L1270.6 817.91L1270.9 818.69L1271.3 819.46L1271.6 820.23L1272.0 821.00L1272.3 821.78L1272.6 822.55L1273.0 823.32L1273.3 824.10L1273.6 824.87L1274.0 825.64L1274.3 826.42L1274.6 827.19L1275.0 827.97L1275.3 828.74L1275.6 829.52L1275.9 830.29L1276.3 831.07 M1294.4 877.98L1294.7 878.75L1295.1 879.52L1295.4 880.28L1295.8 881.05L1296.1 881.82L1296.5 882.58L1296.8 883.35L1297.2 884.12L1297.6 884.88L1297.9 885.64L1298.3 886.41L1298.6 887.17L1299.0 887.94L1299.4 888.70L1299.8 889.46L1300.1 890.22L1300.5 890.98L1300.9 891.74L1301.3 892.50L1301.7 893.26L1302.0 894.02L1302.4 894.78L1302.8 895.54L1303.2 896.30L1303.6 897.05L1304.0 897.81L1304.4 898.57L1304.7 899.32L1305.1 900.08L1305.5 900.84L1305.9 901.59L1306.3 902.35L1306.7 903.10L1307.1 903.85L1307.5 904.61 M1340.2 940.12L1341.1 940.26L1342.0 940.38L1342.9 940.50L1343.9 940.62L1344.9 940.73L1345.8 940.83L1346.8 940.93L1347.8 941.03L1348.8 941.12L1349.8 941.21L1350.8 941.29L1351.8 941.38L1352.9 941.45L1353.9 941.53L1354.9 941.60L1355.9 941.67L1357.0 941.75L1358.0 941.81L1359.1 941.88L1360.1 941.95L1361.2 942.02L1362.2 942.08L1363.2 942.15L1364.3 942.22L1365.3 942.29L1366.4 942.36L1367.4 942.43L1368.4 942.50L1369.5 942.57L1370.5 942.65L1371.5 942.73L1372.5 942.81L1373.5 942.90L1374.5 942.99L1375.5 943.08L1376.5 943.18L1377.5 943.27L1378.5 943.37L1379.5 943.47L1380.5 943.57L1381.5 943.67L1382.5 943.77L1383.5 943.87L1384.5 943.97L1385.5 944.07L1386.5 944.18L1387.5 944.28L1388.5 944.38L1389.4 944.48L1390.4 944.59L1391.4 944.69L1392.4 944.79L1393.4 944.90L1394.4 945.00L1395.4 945.10L1396.4 945.20L1397.4 945.30L1398.4 945.40L1399.4 945.50L1400.4 945.60L1401.4 945.70L1402.4 945.79L1403.4 945.89L1404.3 945.98L1405.3 946.08L1406.3 946.17L1407.3 946.26L1408.3 946.34L1409.3 946.43L1410.3 946.52L1411.3 946.60L1412.3 946.68L1413.3 946.76 M1466.2 949.46L1467.2 949.49L1468.2 949.51L1469.2 949.53L1470.2 949.55L1471.2 949.58L1472.2 949.60L1473.2 949.62L1474.2 949.64L1475.2 949.65L1476.2 949.67L1477.2 949.69L1478.2 949.71L1479.2 949.73L1480.2 949.75L1481.2 949.76L1482.2 949.78L1483.2 949.80L1484.2 949.81L1485.2 949.83L1486.2 949.84L1487.2 949.86L1488.2 949.87L1489.2 949.89L1490.2 949.90L1491.2 949.92L1492.2 949.93L1493.2 949.95L1494.2 949.96L1495.2 949.98L1496.2 949.99L1497.2 950.00L1498.2 950.02 M1550.3 950.65L1551.3 950.67L1552.3 950.69L1553.3 950.71L1554.3 950.73L1555.3 950.75L1556.3 950.77L1557.3 950.79L1558.3 950.81L1559.3 950.84L1560.3 950.86L1561.3 950.88L1562.3 950.90L1563.3 950.93L1564.3 950.95L1565.3 950.97L1566.3 950.99L1567.3 951.01L1568.3 951.03L1569.3 951.05L1570.3 951.07L1571.3 951.09L1572.3 951.11L1573.3 951.12L1574.3 951.14L1575.3 951.15L1576.3 951.17L1577.3 951.18L1578.3 951.19L1579.3 951.20L1580.3 951.21 M1622.3 950.61L1623.3 950.65L1624.3 950.70L1625.3 950.76L1626.3 950.83L1627.2 950.90L1628.2 950.97L1629.2 951.05L1630.2 951.14L1631.2 951.23L1632.2 951.32L1633.2 951.42L1634.2 951.52L1635.2 951.63L1636.2 951.73L1637.2 951.84L1638.2 951.96L1639.2 952.07L1640.2 952.19L1641.2 952.30L1642.2 952.42L1643.2 952.54L1644.1 952.66L1645.1 952.78L1646.1 952.90L1647.1 953.02L1648.1 953.14L1649.1 953.25L1650.1 953.37L1651.1 953.48L1652.1 953.59L1653.1 953.70 M1704.8 958.41L1705.8 958.54L1706.8 958.66L1707.8 958.79L1708.8 958.91L1709.7 959.04L1710.7 959.17L1711.7 959.31L1712.7 959.44L1713.7 959.58L1714.7 959.72L1715.7 959.86L1716.6 960.00L1717.6 960.15L1718.6 960.29L1719.6 960.44L1720.6 960.59L1721.6 960.74L1722.6 960.89L1723.5 961.04L1724.5 961.20L1725.5 961.35L1726.5 961.51L1727.5 961.66L1728.5 961.82L1729.4 961.98L1730.4 962.14L1731.4 962.30L1732.4 962.46L1733.4 962.63L1734.4 962.79L1735.3 962.96L1736.3 963.12L1737.3 963.29L1738.3 963.45"/>
<path stroke="#000" d="M330.5 117.30L331.1 117.94L331.7 118.60L332.3 119.25L332.9 119.90L333.5 120.56L334.1 121.21L334.7 121.87L335.3 122.53L335.9 123.19L336.5 123.85L337.1 124.51L337.7 125.16L338.3 125.82L338.9 126.48L339.5 127.13L340.2 127.79L340.8 128.44L341.4 129.09L342.0 129.74L342.6 130.39L343.2 131.04L343.8 131.70L344.4 132.35L345.0 133.01L345.6 133.66L346.2 134.32L346.8 134.97L347.4 135.63L348.0 136.28L348.6 136.93L349.3 137.58L349.9 138.23L350.5 138.88L351.1 139.53L351.7 140.17L352.3 140.81 M379.0 162.94L379.8 163.48L380.6 164.02L381.3 164.55L382.1 165.09L382.8 165.62L383.6 166.15L384.4 166.68L385.1 167.21L385.9 167.74L386.7 168.26L387.4 168.78L388.2 169.30L389.0 169.82L389.8 170.34L390.5 170.85L391.3 171.37L392.1 171.88L392.9 172.40L393.7 172.93L394.4 173.45L395.2 173.97L396.0 174.49L396.8 175.01L397.6 175.53L398.4 176.04L399.1 176.55L399.9 177.06L400.7 177.56L401.5 178.05L402.3 178.54L403.2 179.02L404.0 179.49 M449.9 195.32L450.8 195.56L451.8 195.79L452.8 196.02L453.7 196.25L454.7 196.48L455.6 196.70L456.6 196.93L457.6 197.16L458.5 197.38L459.5 197.60L460.5 197.83L461.4 198.05L462.4 198.27L463.3 198.49L464.3 198.72L465.3 198.94L466.2 199.16L467.2 199.38L468.2 199.61L469.1 199.83L470.1 200.06L471.1 200.28L472.0 200.51L473.0 200.74L473.9 200.97L474.9 201.20L475.9 201.43L476.8 201.67 M524.4 214.23L525.4 214.44L526.4 214.65L527.3 214.86L528.3 215.07L529.3 215.27L530.2 215.47L531.2 215.67L532.2 215.87L533.2 216.07L534.1 216.26L535.1 216.46L536.1 216.65L537.0 216.84L538.0 217.04L539.0 217.23L540.0 217.42L540.9 217.61L541.9 217.81L542.9 218.00L543.9 218.19L544.8 218.38L545.8 218.58L546.8 218.77L547.8 218.96L548.7 219.16L549.7 219.36L550.7 219.55L551.6 219.75L552.6 219.95L553.6 220.15L554.6 220.36 M592.1 229.13L593.0 229.37L594.0 229.61L595.0 229.86L595.9 230.10L596.9 230.34L597.8 230.59L598.8 230.83L599.7 231.08L600.7 231.32L601.6 231.57L602.6 231.82L603.6 232.07L604.5 232.32L605.5 232.56L606.4 232.81L607.4 233.06L608.3 233.31L609.3 233.56L610.2 233.81L611.2 234.06L612.1 234.31L613.1 234.57L614.0 234.82L615.0 235.07L615.9 235.32L616.9 235.57L617.9 235.82L618.8 236.07L619.8 236.33L620.7 236.58 M670.1 249.93L671.1 250.22L672.0 250.52L672.9 250.81L673.9 251.11L674.8 251.41L675.7 251.71L676.7 252.01L677.6 252.32L678.5 252.62L679.5 252.93L680.4 253.24L681.3 253.55L682.2 253.87L683.2 254.18L684.1 254.50L685.0 254.82L685.9 255.14L686.9 255.46L687.8 255.78L688.7 256.11L689.6 256.43L690.5 256.76L691.5 257.09L692.4 257.42L693.3 257.76L694.2 258.09L695.1 258.43L696.0 258.77L696.9 259.11 M739.1 277.88L739.9 278.34L740.8 278.80L741.6 279.26L742.4 279.73L743.3 280.21L744.1 280.68L744.9 281.16L745.8 281.64L746.6 282.13L747.4 282.62L748.2 283.11L749.0 283.61L749.9 284.11L750.7 284.62L751.5 285.13L752.3 285.64L753.0 286.15L753.8 286.67L754.6 287.19L755.4 287.72L756.2 288.25L756.9 288.79L757.7 289.32L758.4 289.86L759.2 290.41L759.9 290.96L760.6 291.51 M785.9 318.88L786.5 319.54L787.1 320.21L787.7 320.87L788.3 321.53L788.8 322.20L789.4 322.86L790.0 323.53L790.6 324.19L791.2 324.86L791.8 325.53L792.4 326.19L793.0 326.86L793.5 327.52L794.1 328.19L794.7 328.86L795.3 329.53L795.9 330.19L796.5 330.86L797.0 331.53L797.6 332.20L798.2 332.88L798.8 333.55L799.3 334.22L799.9 334.90L800.5 335.57L801.0 336.25L801.6 336.93L802.2 337.60L802.7 338.28L803.3 338.97L803.8 339.65 M833.6 381.44L834.1 382.13L834.7 382.81L835.2 383.50L835.8 384.18L836.3 384.86L836.9 385.54L837.4 386.22L838.0 386.90L838.6 387.58L839.1 388.26L839.7 388.94L840.3 389.62L840.8 390.29L841.4 390.97L842.0 391.65L842.5 392.32L843.1 393.00L843.7 393.67L844.2 394.35L844.8 395.03L845.4 395.71L845.9 396.39L846.5 397.06L847.1 397.74L847.6 398.42L848.2 399.11L848.7 399.79L849.3 400.47L849.8 401.16L850.4 401.84L850.9 402.53L851.5 403.22 M879.9 444.70L880.4 445.41L880.9 446.12L881.4 446.82L881.9 447.52L882.4 448.23L882.9 448.93L883.5 449.63L884.0 450.34L884.5 451.04L885.0 451.74L885.5 452.44L886.0 453.14L886.6 453.84L887.1 454.54L887.6 455.24L888.1 455.94L888.7 456.64L889.2 457.34L889.7 458.04L890.2 458.74L890.8 459.44L891.3 460.14L891.8 460.84L892.3 461.54L892.8 462.24L893.4 462.94L893.9 463.64L894.4 464.34L894.9 465.04L895.5 465.74L896.0 466.44L896.5 467.14L897.0 467.84L897.5 468.55L898.0 469.25 M921.2 501.84L921.8 502.54L922.3 503.24L922.8 503.95L923.3 504.64L923.9 505.34L924.4 506.04L924.9 506.74L925.4 507.44L926.0 508.14L926.5 508.84L927.0 509.53L927.5 510.23L928.1 510.93L928.6 511.62L929.1 512.32L929.7 513.02L930.2 513.72L930.7 514.41L931.2 515.11L931.8 515.81L932.3 516.51L932.8 517.21L933.3 517.90L933.9 518.60L934.4 519.30L934.9 520.00L935.4 520.70L936.0 521.40L936.5 522.11L937.0 522.81L937.5 523.51L938.0 524.21L938.5 524.92L939.0 525.62 M967.4 568.04L968.0 568.73L968.5 569.43L969.0 570.12L969.6 570.81L970.1 571.49L970.7 572.18L971.2 572.87L971.8 573.55L972.3 574.24L972.9 574.92L973.4 575.60L974.0 576.28L974.6 576.96L975.1 577.64L975.7 578.32L976.2 579.00L976.8 579.68L977.4 580.36L977.9 581.04L978.5 581.72L979.1 582.40L979.6 583.08L980.2 583.76L980.8 584.44L981.3 585.12L981.9 585.80L982.4 586.49L983.0 587.17L983.5 587.85L984.1 588.54L984.6 589.22L985.2 589.91L985.7 590.60L986.3 591.29L986.8 591.98L987.4 592.67 M1015.6 633.30L1016.1 634.00L1016.6 634.69L1017.1 635.39L1017.7 636.08L1018.2 636.78L1018.7 637.47L1019.3 638.16L1019.8 638.85L1020.4 639.55L1020.9 640.24L1021.4 640.93L1022.0 641.62L1022.5 642.30L1023.1 642.99L1023.6 643.68L1024.2 644.37L1024.7 645.06L1025.3 645.75L1025.8 646.44L1026.3 647.13L1026.9 647.81L1027.4 648.50L1028.0 649.19L1028.5 649.88L1029.1 650.57L1029.6 651.26L1030.1 651.96L1030.7 652.65L1031.2 653.34L1031.8 654.03L1032.3 654.73L1032.8 655.42L1033.3 656.12 M1055.6 687.27L1056.1 687.96L1056.6 688.66L1057.2 689.35L1057.7 690.04L1058.3 690.73L1058.8 691.42L1059.3 692.10L1059.9 692.79L1060.4 693.48L1061.0 694.17L1061.5 694.85L1062.1 695.54L1062.6 696.22L1063.2 696.91L1063.7 697.59L1064.3 698.28L1064.9 698.96L1065.4 699.64L1066.0 700.33L1066.5 701.01L1067.1 701.69L1067.6 702.38L1068.2 703.06L1068.7 703.75L1069.3 704.43L1069.8 705.11L1070.4 705.80L1070.9 706.48L1071.5 707.17L1072.0 707.86L1072.6 708.54L1073.1 709.23 M1103.6 748.77L1104.1 749.46L1104.7 750.14L1105.2 750.82L1105.8 751.51L1106.3 752.19L1106.9 752.87L1107.5 753.55L1108.0 754.24L1108.6 754.92L1109.1 755.60L1109.7 756.28L1110.3 756.96L1110.8 757.64L1111.4 758.32L1111.9 759.00L1112.5 759.68L1113.1 760.36L1113.6 761.04L1114.2 761.72L1114.7 762.40L1115.3 763.08L1115.9 763.76L1116.4 764.44L1117.0 765.12L1117.5 765.80L1118.1 766.48L1118.6 767.17L1119.2 767.85L1119.7 768.53L1120.3 769.22L1120.9 769.90L1121.4 770.58 M1151.8 810.13L1152.4 810.82L1152.9 811.49L1153.5 812.17L1154.1 812.85L1154.6 813.53L1155.2 814.21L1155.8 814.88L1156.3 815.56L1156.9 816.23L1157.5 816.91L1158.0 817.58L1158.6 818.26L1159.2 818.93L1159.8 819.60L1160.3 820.28L1160.9 820.95L1161.5 821.62L1162.0 822.30L1162.6 822.97L1163.2 823.64L1163.8 824.32L1164.3 824.99L1164.9 825.66L1165.5 826.34L1166.0 827.01L1166.6 827.69L1167.2 828.36L1167.8 829.04L1168.3 829.71L1168.9 830.39L1169.5 831.07L1170.0 831.74L1170.6 832.42L1171.1 833.10 M1194.6 862.68L1195.2 863.36L1195.7 864.04L1196.3 864.71L1196.8 865.39L1197.4 866.07L1198.0 866.74L1198.5 867.42L1199.1 868.09L1199.7 868.77L1200.3 869.44L1200.8 870.12L1201.4 870.79L1202.0 871.47L1202.5 872.14L1203.1 872.81L1203.7 873.49L1204.3 874.16L1204.8 874.83L1205.4 875.51L1206.0 876.18L1206.5 876.86L1207.1 877.53L1207.7 878.20L1208.2 878.88L1208.8 879.55L1209.4 880.23L1210.0 880.90L1210.5 881.58L1211.1 882.26L1211.7 882.93L1212.2 883.61L1212.8 884.29L1213.3 884.97L1213.9 885.65 M1242.7 922.15L1243.3 922.80L1243.9 923.45L1244.5 924.10L1245.1 924.75L1245.7 925.39L1246.4 926.03L1247.0 926.67L1247.6 927.31L1248.2 927.95L1248.9 928.59L1249.5 929.23L1250.1 929.86L1250.8 930.50L1251.4 931.13L1252.0 931.76L1252.7 932.40L1253.3 933.03L1254.0 933.67L1254.6 934.30L1255.2 934.93L1255.9 935.57L1256.5 936.20L1257.1 936.84L1257.8 937.48L1258.4 938.12L1259.0 938.76L1259.7 939.40L1260.3 940.04L1260.9 940.69L1261.5 941.33 M1292.3 977.74L1292.9 978.40L1293.5 979.06L1294.1 979.72L1294.7 980.37L1295.3 981.03L1295.9 981.68L1296.5 982.34L1297.1 982.99L1297.7 983.64L1298.3 984.30L1298.9 984.95L1299.5 985.60L1300.1 986.25L1300.7 986.90L1301.3 987.55L1302.0 988.20L1302.6 988.85L1303.2 989.50L1303.8 990.14L1304.4 990.79L1305.0 991.44L1305.6 992.09L1306.3 992.74L1306.9 993.38L1307.5 994.03L1308.1 994.68L1308.7 995.33L1309.3 995.98L1309.9 996.62L1310.6 997.27L1311.2 997.92L1311.8 998.57L1312.4 999.22L1313.0 999.87 M1341.1 1028.58L1341.9 1029.10L1342.7 1029.60L1343.5 1030.10L1344.3 1030.59L1345.2 1031.07L1346.0 1031.54L1346.9 1032.00L1347.7 1032.44L1348.6 1032.87L1349.4 1033.29L1350.3 1033.69L1351.2 1034.08L1352.0 1034.45L1352.9 1034.81L1353.8 1035.19L1354.7 1035.57L1355.6 1035.95L1356.5 1036.33L1357.4 1036.71L1358.4 1037.09L1359.3 1037.45L1360.2 1037.81L1361.2 1038.15L1362.1 1038.47L1363.1 1038.78L1364.0 1039.06L1365.0 1039.32L1366.0 1039.54 M1419.8 1041.17L1420.8 1041.23L1421.8 1041.28L1422.8 1041.34L1423.8 1041.40L1424.8 1041.46L1425.8 1041.53L1426.8 1041.60L1427.8 1041.67L1428.8 1041.74L1429.8 1041.82L1430.8 1041.90L1431.8 1041.97L1432.8 1042.05L1433.8 1042.13L1434.8 1042.21L1435.8 1042.29L1436.8 1042.37L1437.8 1042.45L1438.8 1042.53L1439.8 1042.61L1440.8 1042.69L1441.8 1042.77L1442.8 1042.85L1443.7 1042.92L1444.7 1043.00L1445.7 1043.07L1446.7 1043.14L1447.7 1043.21L1448.7 1043.27L1449.7 1043.34L1450.7 1043.40L1451.7 1043.45 M1505.7 1045.00L1506.7 1045.09L1507.7 1045.18L1508.7 1045.28L1509.7 1045.39L1510.7 1045.50L1511.7 1045.62L1512.7 1045.74L1513.7 1045.86L1514.7 1045.99L1515.7 1046.12L1516.7 1046.25L1517.6 1046.39L1518.6 1046.52L1519.6 1046.66L1520.6 1046.80L1521.6 1046.93L1522.6 1047.07L1523.6 1047.20L1524.6 1047.33L1525.6 1047.46L1526.6 1047.59L1527.6 1047.71L1528.6 1047.83L1529.6 1047.94L1530.5 1048.05L1531.5 1048.15L1532.5 1048.25L1533.5 1048.34L1534.5 1048.42L1535.5 1048.50L1536.5 1048.57L1537.5 1048.63 M1579.5 1048.86L1580.5 1048.90L1581.5 1048.95L1582.5 1049.01L1583.5 1049.07L1584.5 1049.14L1585.5 1049.22L1586.5 1049.30L1587.5 1049.38L1588.5 1049.47L1589.4 1049.57L1590.4 1049.67L1591.4 1049.77L1592.4 1049.88L1593.4 1049.99L1594.4 1050.10L1595.4 1050.22L1596.4 1050.34L1597.4 1050.46L1598.4 1050.58L1599.4 1050.71L1600.4 1050.83L1601.4 1050.96L1602.4 1051.08L1603.4 1051.21L1604.3 1051.34L1605.3 1051.46L1606.3 1051.59L1607.3 1051.71L1608.3 1051.83L1609.3 1051.95L1610.3 1052.07L1611.3 1052.19L1612.3 1052.30 M1667.0 1057.25L1668.0 1057.31L1669.0 1057.38L1670.0 1057.45L1671.0 1057.51L1672.0 1057.58L1673.0 1057.65L1674.0 1057.71L1675.0 1057.77L1676.0 1057.84L1677.0 1057.90L1678.0 1057.96L1679.0 1058.02L1680.0 1058.08L1681.0 1058.14L1682.0 1058.20L1683.0 1058.25L1684.0 1058.31L1685.0 1058.36L1686.0 1058.41L1687.0 1058.46L1688.0 1058.51L1689.0 1058.56L1690.0 1058.61L1691.0 1058.65L1692.0 1058.69L1693.0 1058.73L1694.0 1058.77"/>
<path stroke="#f00" d="M283.6 62.29L284.5 62.74L285.3 63.21L286.1 63.69L286.9 64.19L287.7 64.71L288.5 65.23L289.3 65.76L290.1 66.30L290.9 66.84L291.7 67.38L292.5 67.93L293.2 68.46L294.0 69.00L294.8 69.52L295.5 70.04L296.3 70.56L297.1 71.08L297.9 71.61L298.6 72.14L299.4 72.67L300.2 73.21L300.9 73.76L301.7 74.31L302.4 74.86L303.2 75.42L303.9 75.98L304.6 76.55L305.4 77.13 M340.8 118.65L341.5 119.23L342.2 119.81L342.9 120.38L343.6 120.95L344.4 121.51L345.1 122.08L345.8 122.63L346.6 123.19L347.3 123.74L348.1 124.29L348.8 124.84L349.6 125.39L350.4 125.94L351.1 126.48L351.9 127.03L352.6 127.58L353.3 128.13L354.1 128.68L354.8 129.23L355.6 129.79L356.3 130.35L357.1 130.91L357.8 131.47L358.5 132.02L359.3 132.58L360.0 133.13L360.8 133.68L361.5 134.23L362.3 134.77L363.1 135.31L363.8 135.84L364.6 136.36L365.4 136.88L366.2 137.39 M411.1 154.93L412.0 155.26L413.0 155.59L413.9 155.92L414.8 156.26L415.7 156.59L416.6 156.93L417.5 157.26L418.5 157.59L419.4 157.92L420.3 158.24L421.2 158.57L422.1 158.88L423.1 159.20L424.0 159.51L424.9 159.81L425.8 160.10L426.8 160.40L427.7 160.69L428.6 160.98L429.6 161.27L430.5 161.55L431.5 161.84L432.4 162.12L433.3 162.40L434.3 162.67L435.2 162.95L436.2 163.22L437.1 163.49L438.1 163.76L439.0 164.02L440.0 164.29 M478.3 173.65L479.3 173.88L480.2 174.11L481.2 174.34L482.1 174.57L483.1 174.80L484.1 175.03L485.0 175.26L486.0 175.49L487.0 175.72L487.9 175.95L488.9 176.18L489.8 176.41L490.8 176.64L491.8 176.87L492.7 177.10L493.7 177.33L494.6 177.56L495.6 177.79L496.6 178.02L497.5 178.25L498.5 178.48L499.4 178.71L500.4 178.94L501.4 179.17L502.3 179.40L503.3 179.63L504.2 179.86L505.2 180.09L506.2 180.32L507.1 180.56L508.1 180.79 M557.0 192.65L558.0 192.90L558.9 193.15L559.9 193.41L560.8 193.66L561.8 193.92L562.7 194.17L563.7 194.43L564.6 194.69L565.6 194.95L566.5 195.21L567.5 195.47L568.4 195.74L569.4 196.00L570.3 196.26L571.2 196.52L572.2 196.79L573.1 197.05L574.1 197.32L575.0 197.58L576.0 197.84L576.9 198.11L577.9 198.37L578.8 198.64L579.8 198.90L580.7 199.16L581.7 199.42L582.6 199.69L583.6 199.95L584.5 200.21L585.5 200.47L586.4 200.73L587.4 200.99 M633.1 213.10L634.0 213.38L634.9 213.67L635.9 213.96L636.8 214.26L637.8 214.55L638.7 214.85L639.6 215.15L640.6 215.45L641.5 215.75L642.4 216.05L643.4 216.36L644.3 216.66L645.2 216.96L646.2 217.26L647.1 217.56L648.0 217.86L649.0 218.16L649.9 218.45L650.8 218.74L651.8 219.03L652.7 219.32L653.7 219.60L654.6 219.88L655.5 220.16L656.5 220.43L657.4 220.70L658.4 220.96L659.3 221.22L660.3 221.47 M699.2 229.00L700.1 229.23L701.1 229.46L702.0 229.69L703.0 229.92L704.0 230.16L704.9 230.40L705.9 230.64L706.8 230.88L707.8 231.13L708.7 231.38L709.7 231.63L710.6 231.88L711.6 232.13L712.5 232.39L713.5 232.65L714.4 232.91L715.4 233.17L716.3 233.43L717.3 233.69L718.2 233.95L719.2 234.21L720.1 234.48L721.1 234.74L722.0 235.01L723.0 235.27L723.9 235.53L724.9 235.80L725.8 236.06L726.8 236.32 M774.1 249.74L775.0 250.00L775.9 250.27L776.9 250.54L777.8 250.80L778.8 251.07L779.7 251.33L780.7 251.60L781.6 251.86L782.6 252.13L783.5 252.39L784.5 252.66L785.4 252.92L786.4 253.19L787.3 253.45L788.3 253.72L789.2 253.99L790.2 254.26L791.1 254.52L792.0 254.79L793.0 255.06L793.9 255.33L794.9 255.60L795.8 255.88L796.8 256.15L797.7 256.42L798.7 256.70L799.6 256.97L800.5 257.25L801.5 257.53L802.4 257.81 M847.9 272.70L848.9 272.98L849.8 273.25L850.8 273.53L851.7 273.80L852.7 274.07L853.6 274.34L854.5 274.61L855.5 274.87L856.4 275.14L857.4 275.40L858.3 275.67L859.3 275.93L860.2 276.19L861.2 276.46L862.1 276.72L863.1 276.98L864.0 277.24L865.0 277.51L865.9 277.77L866.9 278.03L867.8 278.30L868.8 278.56L869.7 278.83L870.7 279.09L871.6 279.36L872.5 279.63L873.5 279.90L874.4 280.17L875.4 280.44L876.3 280.72L877.3 280.99 M913.5 292.78L914.5 293.08L915.4 293.38L916.3 293.68L917.3 293.98L918.2 294.28L919.1 294.58L920.1 294.88L921.0 295.17L921.9 295.47L922.9 295.77L923.8 296.07L924.7 296.37L925.7 296.67L926.6 296.97L927.5 297.27L928.5 297.57L929.4 297.87L930.3 298.18L931.3 298.48L932.2 298.79L933.1 299.10L934.0 299.41L935.0 299.72L935.9 300.03L936.8 300.35L937.7 300.66L938.7 300.98L939.6 301.30L940.5 301.63L941.4 301.95 M986.7 321.12L987.6 321.49L988.5 321.86L989.4 322.23L990.3 322.60L991.2 322.97L992.1 323.34L993.0 323.71L993.9 324.08L994.8 324.45L995.7 324.82L996.6 325.19L997.5 325.56L998.4 325.93L999.3 326.31L1000.2 326.68L1001.1 327.06L1002.0 327.43L1002.9 327.81L1003.8 328.19L1004.7 328.58L1005.6 328.96L1006.4 329.35L1007.3 329.74L1008.2 330.14L1009.1 330.54L1009.9 330.94L1010.8 331.34L1011.7 331.75L1012.5 332.16L1013.4 332.58 M1053.1 358.70L1053.9 359.24L1054.6 359.78L1055.4 360.32L1056.2 360.87L1056.9 361.41L1057.7 361.95L1058.4 362.50L1059.2 363.04L1059.9 363.59L1060.7 364.14L1061.5 364.69L1062.2 365.24L1062.9 365.79L1063.7 366.35L1064.4 366.90L1065.2 367.46L1065.9 368.02L1066.6 368.59L1067.4 369.16L1068.1 369.73L1068.8 370.30L1069.5 370.87L1070.2 371.45L1070.9 372.03L1071.6 372.62L1072.3 373.21 M1100.3 405.08L1100.9 405.74L1101.5 406.41L1102.1 407.07L1102.7 407.73L1103.3 408.39L1104.0 409.04L1104.6 409.70L1105.2 410.36L1105.8 411.02L1106.4 411.68L1107.0 412.34L1107.6 412.99L1108.2 413.65L1108.8 414.31L1109.4 414.97L1110.0 415.64L1110.6 416.30L1111.2 416.96L1111.8 417.63L1112.4 418.29L1113.0 418.96L1113.6 419.63L1114.1 420.31L1114.7 420.98L1115.3 421.66L1115.8 422.34L1116.4 423.02L1116.9 423.70L1117.4 424.39L1118.0 425.08 M1142.2 470.89L1142.6 471.64L1143.0 472.39L1143.4 473.15L1143.8 473.90L1144.2 474.65L1144.6 475.40L1145.1 476.15L1145.5 476.90L1145.9 477.66L1146.3 478.41L1146.7 479.16L1147.1 479.91L1147.5 480.66L1147.9 481.41L1148.3 482.17L1148.7 482.92L1149.1 483.67L1149.5 484.42L1149.9 485.18L1150.3 485.93L1150.7 486.69L1151.1 487.44L1151.5 488.20L1151.9 488.96L1152.3 489.71L1152.6 490.47L1153.0 491.23L1153.4 491.99L1153.8 492.76L1154.1 493.52L1154.5 494.28L1154.8 495.05L1155.2 495.81 M1171.4 543.97L1171.8 544.75L1172.1 545.52L1172.4 546.29L1172.8 547.06L1173.1 547.82L1173.5 548.59L1173.8 549.36L1174.2 550.12L1174.6 550.89L1174.9 551.65L1175.3 552.42L1175.7 553.18L1176.0 553.94L1176.4 554.70L1176.8 555.47L1177.2 556.23L1177.5 556.99L1177.9 557.75L1178.3 558.51L1178.7 559.28L1179.1 560.04L1179.4 560.80L1179.8 561.56L1180.2 562.33L1180.5 563.09L1180.9 563.85L1181.3 564.62L1181.6 565.38L1182.0 566.15L1182.4 566.92L1182.7 567.68L1183.1 568.45L1183.4 569.22 M1201.5 617.83L1201.9 618.60L1202.2 619.38L1202.5 620.15L1202.9 620.92L1203.2 621.69L1203.6 622.46L1203.9 623.23L1204.3 624.00L1204.6 624.77L1205.0 625.54L1205.3 626.31L1205.7 627.08L1206.0 627.84L1206.4 628.61L1206.7 629.38L1207.1 630.15L1207.4 630.92L1207.8 631.68L1208.1 632.45L1208.5 633.22L1208.8 633.99L1209.2 634.76L1209.6 635.53L1209.9 636.30L1210.2 637.06L1210.6 637.83L1210.9 638.61L1211.3 639.38L1211.6 640.15L1212.0 640.92L1212.3 641.69L1212.6 642.47L1212.9 643.24L1213.3 644.02 M1219.6 660.44L1219.9 661.21L1220.2 661.99L1220.5 662.76L1220.9 663.54L1221.2 664.31L1221.5 665.08L1221.9 665.85L1222.2 666.63L1222.6 667.40L1222.9 668.17L1223.3 668.94L1223.6 669.71L1223.9 670.48L1224.3 671.25L1224.6 672.02L1225.0 672.79L1225.3 673.56L1225.7 674.32L1226.0 675.09L1226.4 675.86L1226.7 676.63L1227.1 677.40L1227.4 678.17L1227.8 678.94L1228.1 679.71L1228.5 680.48L1228.8 681.25L1229.2 682.02L1229.5 682.79L1229.8 683.56L1230.2 684.33L1230.5 685.11L1230.9 685.88L1231.2 686.65L1231.5 687.43 M1249.5 734.37L1249.8 735.15L1250.1 735.93L1250.4 736.71L1250.7 737.49L1251.0 738.27L1251.3 739.05L1251.7 739.83L1252.0 740.61L1252.3 741.39L1252.6 742.17L1252.9 742.95L1253.2 743.73L1253.5 744.51L1253.8 745.29L1254.1 746.07L1254.4 746.85L1254.7 747.63L1255.0 748.41L1255.4 749.19L1255.7 749.97L1256.0 750.75L1256.3 751.53L1256.6 752.31L1256.9 753.10L1257.2 753.88L1257.5 754.66L1257.8 755.44L1258.1 756.22L1258.4 757.00L1258.7 757.78L1259.0 758.56L1259.4 759.34L1259.7 760.12 M1277.9 807.86L1278.2 808.64L1278.5 809.42L1278.8 810.19L1279.2 810.97L1279.5 811.75L1279.8 812.52L1280.1 813.30L1280.5 814.07L1280.8 814.85L1281.1 815.62L1281.4 816.40L1281.8 817.17L1282.1 817.95L1282.4 818.72L1282.8 819.50L1283.1 820.27L1283.4 821.05L1283.7 821.82L1284.1 822.60L1284.4 823.37L1284.7 824.14L1285.1 824.92L1285.4 825.69L1285.7 826.47L1286.1 827.24L1286.4 828.02L1286.7 828.79L1287.0 829.56L1287.4 830.34L1287.7 831.11L1288.0 831.89L1288.4 832.66L1288.7 833.44 M1307.5 879.29L1307.9 880.06L1308.2 880.84L1308.5 881.61L1308.9 882.39L1309.2 883.16L1309.5 883.94L1309.8 884.71L1310.2 885.49L1310.5 886.26L1310.8 887.04L1311.2 887.81L1311.5 888.59L1311.8 889.36L1312.1 890.14L1312.5 890.91L1312.8 891.69L1313.1 892.46L1313.5 893.23L1313.8 894.01L1314.1 894.78L1314.4 895.56L1314.8 896.33L1315.1 897.11L1315.4 897.88L1315.8 898.66L1316.1 899.43L1316.4 900.21L1316.7 900.98L1317.1 901.76L1317.4 902.53L1317.7 903.31L1318.0 904.09L1318.4 904.86L1318.7 905.64L1319.0 906.42L1319.3 907.19 M1337.3 952.40L1337.7 953.16L1338.1 953.92L1338.4 954.69L1338.8 955.45L1339.2 956.21L1339.5 956.97L1339.9 957.73L1340.3 958.49L1340.7 959.25L1341.1 960.01L1341.5 960.76L1341.8 961.52L1342.2 962.28L1342.6 963.03L1343.0 963.79L1343.4 964.55L1343.8 965.30L1344.2 966.06L1344.6 966.82L1345.0 967.57L1345.3 968.33L1345.7 969.08L1346.1 969.84L1346.5 970.60L1346.9 971.36L1347.3 972.11L1347.7 972.87L1348.0 973.63L1348.4 974.39L1348.8 975.15L1349.2 975.91L1349.5 976.67L1349.9 977.44L1350.3 978.20L1350.6 978.96 M1373.7 1023.51L1374.5 1023.94L1375.4 1024.35L1376.3 1024.75L1377.2 1025.14L1378.2 1025.52L1379.1 1025.89L1380.1 1026.25L1381.1 1026.60L1382.1 1026.94L1383.1 1027.28L1384.0 1027.61L1385.0 1027.93L1385.9 1028.25L1386.8 1028.57L1387.7 1028.90L1388.7 1029.23L1389.6 1029.56L1390.5 1029.90L1391.5 1030.23L1392.4 1030.55L1393.4 1030.87L1394.3 1031.18L1395.2 1031.48L1396.2 1031.76L1397.2 1032.03L1398.1 1032.27L1399.1 1032.50 M1450.9 1035.45L1451.8 1035.55L1452.8 1035.66L1453.8 1035.77L1454.8 1035.89L1455.8 1036.01L1456.8 1036.14L1457.8 1036.27L1458.8 1036.40L1459.8 1036.53L1460.8 1036.67L1461.8 1036.81L1462.7 1036.94L1463.7 1037.08L1464.7 1037.22L1465.7 1037.36L1466.7 1037.50L1467.7 1037.63L1468.7 1037.76L1469.7 1037.90L1470.7 1038.03L1471.7 1038.15L1472.7 1038.27L1473.6 1038.39L1474.6 1038.51L1475.6 1038.61L1476.6 1038.72L1477.6 1038.82L1478.6 1038.91L1479.6 1038.99L1480.6 1039.07 M1533.6 1040.15L1534.6 1040.19L1535.6 1040.23L1536.6 1040.28L1537.6 1040.33L1538.6 1040.38L1539.6 1040.44L1540.6 1040.49L1541.6 1040.55L1542.6 1040.61L1543.6 1040.68L1544.6 1040.74L1545.5 1040.81L1546.5 1040.88L1547.5 1040.95L1548.5 1041.03L1549.5 1041.10L1550.5 1041.18L1551.5 1041.25L1552.5 1041.33L1553.5 1041.41L1554.5 1041.50L1555.5 1041.58L1556.5 1041.66L1557.5 1041.75L1558.5 1041.83L1559.5 1041.92L1560.5 1042.01L1561.5 1042.09L1562.5 1042.18L1563.5 1042.27L1564.5 1042.36L1565.5 1042.45 M1704.0 1059.22L1705.0 1059.26L1706.0 1059.30L1707.0 1059.34L1708.0 1059.38L1709.0 1059.42L1710.0 1059.46L1711.0 1059.50L1712.0 1059.53L1713.0 1059.57L1714.0 1059.61L1715.0 1059.64L1716.0 1059.68L1717.0 1059.71L1717.9 1059.74L1718.9 1059.78L1719.9 1059.81L1720.9 1059.84L1721.9 1059.87L1722.9 1059.90L1723.9 1059.93L1724.9 1059.96L1725.9 1059.98L1726.9 1060.01L1727.9 1060.03L1728.9 1060.06L1729.9 1060.08L1730.9 1060.11L1732.0 1060.13L1733.0 1060.15L1734.0 1060.17L1735.0 1060.19L1736.0 1060.20"/>
</g>
<path stroke="#00f" stroke-width="11.0" stroke-linecap="butt" d="M200.0 43.50L202.0 43.61L204.1 43.76L206.1 43.95L208.1 44.18L210.1 44.45L212.1 44.75L214.1 45.09L216.1 45.45L218.1 45.84L220.0 46.26L222.0 46.69L223.9 47.14L225.8 47.61L227.7 48.08L229.7 48.57L231.5 49.07L233.4 49.61L235.3 50.22L237.2 50.91L239.0 51.65L240.9 52.44L242.7 53.28L244.6 54.16L246.4 55.07L248.2 56.01L250.0 56.98L251.7 57.96L253.5 58.95L255.2 59.94L256.9 60.93L258.6 61.98L260.3 63.07L261.9 64.22L263.6 65.39L265.2 66.60L266.8 67.83L268.4 69.07L269.9 70.32L271.5 71.57L273.1 72.80L274.6 74.05L276.2 75.33L277.7 76.62L279.2 77.92L280.8 79.23L282.3 80.55L283.8 81.86L285.3 83.18L286.8 84.48L288.3 85.78L289.9 87.06L291.4 88.33L293.0 89.59L294.5 90.86L296.1 92.14L297.6 93.45L299.1 94.78L300.6 96.12L302.1 97.46L303.6 98.80L305.1 100.13L306.6 101.45L308.1 102.74L309.7 103.99L311.3 105.21L312.9 106.38L314.5 107.53L316.2 108.66L317.8 109.78L319.5 110.88L321.2 111.96L323.0 113.00L324.7 114.01L326.5 114.97L328.2 115.89L330.0 116.74L331.8 117.54L333.7 118.30L335.5 119.03L337.4 119.73L339.3 120.40L341.2 121.04L343.1 121.66L345.1 122.26L347.0 122.84L348.9 123.40L350.8 123.95L352.8 124.48L354.7 125.00L356.6 125.50L358.6 125.98L360.5 126.44L362.5 126.89L364.4 127.31L366.4 127.72L368.4 128.11L370.3 128.47L372.3 128.82L374.3 129.15L376.2 129.48L378.2 129.81L380.2 130.14L382.2 130.47L384.2 130.82L386.1 131.17L388.1 131.52L390.1 131.88L392.0 132.24L394.0 132.60L396.0 132.94L398.0 133.28L399.9 133.61L401.9 133.93L403.9 134.23L405.9 134.53L407.8 134.82L409.8 135.10L411.8 135.38L413.8 135.65L415.8 135.92L417.8 136.19L419.7 136.47L421.7 136.74L423.7 137.00L425.7 137.26L427.7 137.52L429.7 137.78L431.7 138.04L433.6 138.29L435.6 138.54L437.6 138.80L439.6 139.05L441.6 139.30L443.6 139.56L445.6 139.81L447.6 140.07L449.5 140.33L451.5 140.59L453.5 140.85L455.5 141.12L457.5 141.39L459.5 141.66L461.4 141.93L463.4 142.19L465.4 142.46L467.4 142.73L469.4 143.01L471.4 143.28L473.4 143.56L475.3 143.83L477.3 144.12L479.3 144.40L481.3 144.69L483.3 144.98L485.2 145.27L487.2 145.57L489.2 145.88L491.2 146.18L493.2 146.49L495.1 146.80L497.1 147.11L499.1 147.42L501.1 147.74L503.1 148.06L505.0 148.39L507.0 148.74L509.0 149.09L511.0 149.45L512.9 149.83L514.9 150.22L516.8 150.63L518.8 151.06L520.7 151.51L522.7 151.97L524.6 152.45L526.5 152.95L528.4 153.46L530.4 153.98L532.3 154.52L534.2 155.07L536.1 155.63L538.1 156.20L540.0 156.79L541.9 157.38L543.8 157.98L545.7 158.59L547.6 159.20L549.5 159.83L551.4 160.45L553.3 161.09L555.3 161.72L557.2 162.36L559.1 163.00L561.0 163.64L562.9 164.29L564.8 164.93L566.7 165.57L568.6 166.21L570.5 166.85L572.4 167.48L574.3 168.12L576.2 168.74L578.1 169.36L580.0 169.98L581.9 170.58L583.8 171.18L585.8 171.77L587.7 172.36L589.6 172.94L591.5 173.51L593.5 174.08L595.4 174.65L597.3 175.21L599.3 175.77L601.2 176.33L603.2 176.89L605.1 177.45L607.0 178.01L609.0 178.58L610.9 179.14L612.9 179.71L614.8 180.29L616.7 180.86L618.6 181.45L620.6 182.04L622.5 182.64L624.4 183.25L626.3 183.86L628.2 184.49L630.1 185.12L632.0 185.77L633.9 186.43L635.7 187.10L637.6 187.79L639.5 188.49L641.3 189.21L643.1 189.94L645.0 190.69L646.8 191.45L648.6 192.24L650.4 193.06L652.1 193.92L653.9 194.82L655.7 195.76L657.4 196.73L659.1 197.73L660.8 198.76L662.6 199.81L664.3 200.88L666.0 201.97L667.7 203.07L669.3 204.17L671.0 205.29L672.7 206.40L674.4 207.52L676.1 208.63L677.8 209.73L679.5 210.82L681.2 211.89L682.9 212.96L684.5 214.03L686.2 215.12L687.9 216.22L689.6 217.32L691.3 218.43L692.9 219.54L694.6 220.65L696.2 221.77L697.9 222.89L699.6 224.00L701.2 225.11L702.9 226.22L704.6 227.32L706.3 228.41L708.0 229.49L709.6 230.56L711.3 231.62L713.0 232.66L714.8 233.69L716.5 234.72L718.2 235.75L719.9 236.79L721.6 237.82L723.4 238.86L725.1 239.89L726.8 240.91L728.6 241.93L730.3 242.94L732.1 243.93L733.8 244.91L735.6 245.87L737.3 246.82L739.1 247.74L740.9 248.64L742.7 249.52L744.5 250.37L746.3 251.19L748.1 251.98L750.0 252.74L751.8 253.48L753.7 254.19L755.5 254.89L757.4 255.57L759.3 256.24L761.2 256.89L763.1 257.53L765.0 258.16L766.9 258.78L768.8 259.40L770.7 260.02L772.7 260.63L774.6 261.25L776.5 261.87L778.4 262.50L780.3 263.13L782.2 263.77L784.1 264.41L786.0 265.05L787.9 265.69L789.8 266.33L791.7 266.97L793.6 267.61L795.5 268.25L797.4 268.89L799.3 269.52L801.2 270.16L803.1 270.80L805.0 271.43L806.9 272.06L808.8 272.70L810.7 273.33L812.6 273.95L814.5 274.58L816.4 275.21L818.3 275.83L820.2 276.45L822.1 277.07L824.0 277.68L825.9 278.29L827.8 278.90L829.7 279.51L831.6 280.11L833.5 280.71L835.5 281.31L837.4 281.90L839.3 282.49L841.2 283.08L843.1 283.66L845.0 284.24L846.9 284.81L848.9 285.38L850.8 285.94L852.7 286.50L854.6 287.04L856.6 287.59L858.5 288.13L860.4 288.66L862.3 289.19L864.3 289.72L866.2 290.24L868.1 290.76L870.1 291.28L872.0 291.79L874.0 292.30L875.9 292.82L877.8 293.33L879.8 293.84L881.7 294.35L883.6 294.86L885.6 295.37L887.5 295.88L889.4 296.40L891.4 296.91L893.3 297.43L895.3 297.96L897.2 298.48L899.1 299.01L901.0 299.54L903.0 300.08L904.9 300.62L906.8 301.17L908.8 301.72L910.7 302.28L912.6 302.85L914.5 303.42L916.4 303.99L918.3 304.57L920.3 305.14L922.2 305.72L924.1 306.30L926.0 306.88L927.9 307.47L929.9 308.05L931.8 308.64L933.7 309.23L935.6 309.83L937.5 310.42L939.4 311.02L941.3 311.63L943.3 312.23L945.2 312.84L947.1 313.45L949.0 314.07L950.9 314.69L952.8 315.31L954.7 315.94L956.6 316.57L958.5 317.21L960.4 317.85L962.3 318.49L964.2 319.14L966.1 319.79L968.0 320.45L969.9 321.12L971.7 321.79L973.6 322.46L975.5 323.14L977.4 323.83L979.2 324.52L981.1 325.22L983.0 325.92L984.9 326.63L986.7 327.36L988.6 328.08L990.4 328.82L992.3 329.56L994.2 330.31L996.0 331.06L997.9 331.82L999.7 332.59L1001.6 333.36L1003.4 334.14L1005.3 334.92L1007.1 335.71L1008.9 336.50L1010.8 337.30L1012.6 338.10L1014.5 338.90L1016.3 339.71L1018.1 340.52L1020.0 341.34L1021.8 342.16L1023.6 342.98L1025.4 343.81L1027.3 344.64L1029.1 345.47L1030.9 346.31L1032.7 347.14L1034.6 347.98L1036.4 348.82L1038.2 349.66L1040.0 350.50L1041.8 351.35L1043.6 352.20L1045.4 353.06L1047.2 353.92L1049.0 354.78L1050.9 355.66L1052.7 356.53L1054.5 357.42L1056.2 358.30L1058.0 359.20L1059.8 360.09L1061.6 360.99L1063.4 361.90L1065.2 362.81L1067.0 363.72L1068.8 364.64L1070.5 365.57L1072.3 366.49L1074.1 367.43L1075.9 368.36L1077.6 369.30L1079.4 370.24L1081.2 371.19L1082.9 372.14L1084.7 373.09L1086.4 374.05L1088.2 375.01L1090.0 375.97L1091.7 376.94L1093.5 377.91L1095.2 378.89L1097.0 379.87L1098.7 380.86L1100.5 381.86L1102.2 382.87L1103.9 383.89L1105.6 384.91L1107.4 385.95L1109.1 387.00L1110.7 388.05L1112.4 389.12L1114.1 390.20L1115.8 391.29L1117.4 392.40L1119.1 393.52L1120.8 394.64L1122.4 395.78L1124.0 396.93L1125.7 398.09L1127.3 399.26L1128.9 400.43L1130.6 401.62L1132.2 402.82L1133.8 404.02L1135.4 405.23L1137.0 406.45L1138.6 407.67L1140.1 408.91L1141.7 410.14L1143.3 411.39L1144.9 412.64L1146.4 413.89L1148.0 415.15L1149.5 416.41L1151.1 417.68L1152.6 418.96L1154.1 420.25L1155.7 421.55L1157.2 422.85L1158.7 424.17L1160.2 425.50L1161.7 426.83L1163.2 428.18L1164.7 429.53L1166.1 430.89L1167.6 432.26L1169.1 433.63L1170.5 435.02L1172.0 436.41L1173.4 437.80L1174.8 439.21L1176.2 440.62L1177.6 442.04L1179.0 443.46L1180.4 444.90L1181.8 446.34L1183.2 447.79L1184.6 449.25L1186.0 450.72L1187.3 452.20L1188.7 453.68L1190.0 455.17L1191.4 456.67L1192.7 458.17L1194.0 459.69L1195.3 461.21L1196.6 462.74L1197.9 464.27L1199.1 465.82L1200.4 467.37L1201.6 468.93L1202.9 470.50L1204.1 472.08L1205.3 473.68L1206.5 475.27L1207.7 476.88L1208.9 478.50L1210.1 480.12L1211.2 481.75L1212.4 483.39L1213.5 485.03L1214.7 486.68L1215.8 488.33L1217.0 489.99L1218.1 491.65L1219.2 493.32L1220.3 494.98L1221.4 496.65L1222.5 498.33L1223.6 500.00L1224.7 501.68L1225.8 503.36L1226.9 505.04L1227.9 506.74L1229.0 508.43L1230.0 510.14L1231.1 511.84L1232.1 513.55L1233.2 515.27L1234.2 516.99L1235.2 518.72L1236.2 520.44L1237.2 522.17L1238.2 523.91L1239.2 525.64L1240.2 527.38L1241.2 529.12L1242.2 530.87L1243.2 532.61L1244.2 534.36L1245.2 536.10L1246.2 537.85L1247.1 539.60L1248.1 541.35L1249.1 543.10L1250.1 544.85L1251.0 546.60L1252.0 548.35L1253.0 550.10L1253.9 551.86L1254.9 553.62L1255.8 555.38L1256.8 557.14L1257.7 558.91L1258.7 560.67L1259.6 562.44L1260.6 564.21L1261.5 565.98L1262.4 567.75L1263.4 569.53L1264.3 571.30L1265.2 573.08L1266.1 574.86L1267.1 576.64L1268.0 578.43L1268.9 580.21L1269.8 582.00L1270.7 583.79L1271.6 585.58L1272.5 587.37L1273.3 589.17L1274.2 590.96L1275.1 592.76L1276.0 594.57L1276.8 596.37L1277.7 598.18L1278.5 600.00L1279.4 601.81L1280.2 603.63L1281.0 605.45L1281.9 607.27L1282.7 609.10L1283.5 610.93L1284.3 612.75L1285.1 614.58L1286.0 616.41L1286.8 618.24L1287.6 620.07L1288.4 621.91L1289.2 623.74L1290.0 625.57L1290.8 627.40L1291.7 629.23L1292.5 631.06L1293.3 632.89L1294.1 634.72L1294.9 636.54L1295.8 638.37L1296.6 640.19L1297.4 642.01L1298.3 643.83L1299.1 645.65L1299.9 647.46L1300.8 649.27L1301.7 651.08L1302.5 652.89L1303.4 654.70L1304.3 656.51L1305.1 658.31L1306.0 660.11L1306.9 661.92L1307.7 663.72L1308.6 665.52L1309.5 667.33L1310.4 669.13L1311.2 670.93L1312.1 672.74L1313.0 674.54L1313.8 676.35L1314.7 678.16L1315.5 679.97L1316.4 681.78L1317.2 683.59L1318.1 685.41L1318.9 687.22L1319.8 689.04L1320.6 690.87L1321.4 692.69L1322.2 694.52L1323.0 696.35L1323.8 698.18L1324.6 700.02L1325.4 701.86L1326.2 703.70L1327.0 705.54L1327.8 707.38L1328.6 709.22L1329.4 711.07L1330.1 712.91L1330.9 714.76L1331.7 716.60L1332.5 718.45L1333.2 720.30L1334.0 722.14L1334.8 723.99L1335.6 725.84L1336.3 727.68L1337.1 729.53L1337.9 731.37L1338.7 733.22L1339.5 735.07L1340.2 736.92L1341.0 738.77L1341.8 740.62L1342.5 742.47L1343.3 744.32L1344.1 746.17L1344.8 748.02L1345.6 749.87L1346.3 751.73L1347.1 753.58L1347.9 755.43L1348.6 757.29L1349.4 759.14L1350.1 760.99L1350.9 762.84L1351.7 764.69L1352.4 766.55L1353.2 768.40L1354.0 770.25L1354.7 772.09L1355.5 773.94L1356.3 775.79L1357.1 777.64L1357.8 779.48L1358.6 781.32L1359.4 783.16L1360.2 785.00L1361.0 786.84L1361.8 788.68L1362.6 790.52L1363.4 792.35L1364.2 794.18L1365.0 796.02L1365.8 797.85L1366.6 799.68L1367.4 801.51L1368.2 803.33L1369.1 805.16L1369.9 806.99L1370.7 808.81L1371.5 810.64L1372.4 812.46L1373.2 814.29L1374.0 816.11L1374.8 817.93L1375.7 819.75L1376.5 821.57L1377.4 823.39L1378.2 825.21L1379.0 827.03L1379.9 828.85L1380.7 830.67L1381.5 832.48L1382.4 834.30L1383.2 836.12L1384.1 837.94L1384.9 839.75L1385.8 841.57L1386.6 843.38L1387.5 845.20L1388.3 847.01L1389.1 848.83L1390.0 850.64L1390.9 852.45L1391.7 854.26L1392.6 856.07L1393.4 857.88L1394.3 859.69L1395.1 861.50L1396.0 863.31L1396.9 865.11L1397.7 866.92L1398.6 868.73L1399.5 870.53L1400.3 872.34L1401.2 874.14L1402.1 875.95L1402.9 877.76L1403.8 879.56L1404.6 881.37L1405.5 883.17L1406.4 884.98L1407.2 886.79L1408.1 888.59L1409.0 890.40L1409.8 892.20L1410.7 894.01L1411.6 895.82L1412.4 897.63L1413.3 899.44L1414.1 901.25L1415.0 903.06L1415.9 904.87L1416.7 906.68L1417.6 908.49L1418.4 910.30L1419.3 912.11L1420.1 913.92L1421.0 915.73L1421.8 917.54L1422.7 919.35L1423.6 921.16L1424.4 922.97L1425.3 924.78L1426.1 926.59L1427.0 928.40L1427.8 930.21L1428.7 932.02L1429.6 933.83L1430.4 935.63L1431.3 937.44L1432.2 939.24L1433.0 941.05L1433.9 942.85L1434.8 944.65L1435.6 946.45L1436.5 948.25L1437.4 950.05L1438.3 951.85L1439.2 953.65L1440.1 955.45L1440.9 957.24L1441.8 959.04L1442.7 960.83L1443.6 962.62L1444.5 964.42L1445.4 966.21L1446.3 968.00L1447.2 969.79L1448.1 971.59L1449.0 973.38L1449.9 975.17L1450.8 976.95L1451.7 978.74L1452.6 980.53L1453.5 982.32L1454.4 984.11L1455.3 985.90L1456.2 987.68L1457.1 989.47L1458.0 991.26L1458.9 993.04L1459.8 994.83L1460.7 996.62L1461.6 998.40L1462.5 1000.19L1463.4 1001.97L1464.3 1003.75L1465.3 1005.53L1466.2 1007.31L1467.1 1009.09L1468.0 1010.87L1468.9 1012.65L1469.9 1014.42L1470.8 1016.20L1471.7 1017.98L1472.6 1019.75L1473.6 1021.53L1474.5 1023.31L1475.4 1025.09L1476.3 1026.86L1477.2 1028.64L1478.2 1030.42L1479.1 1032.20L1480.0 1033.98L1480.9 1035.76L1481.8 1037.54L1482.7 1039.33L1483.6 1041.11L1484.5 1042.90L1485.4 1044.69L1486.3 1046.48L1487.2 1048.27L1488.1 1050.07L1489.0 1051.86L1489.9 1053.66L1490.8 1055.46L1491.6 1057.26L1492.5 1059.06L1493.4 1060.87L1494.3 1062.67L1495.1 1064.47L1496.0 1066.28L1496.9 1068.09L1497.7 1069.89L1498.6 1071.70L1499.5 1073.51L1500.3 1075.31L1501.2 1077.12L1502.0 1078.92L1502.9 1080.73L1503.8 1082.54L1504.6 1084.34L1505.5 1086.14L1506.4 1087.95L1507.3 1089.75L1508.1 1091.55L1509.0 1093.35L1509.9 1095.15L1510.8 1096.94L1511.7 1098.74L1512.6 1100.53L1513.5 1102.32L1514.4 1104.11L1515.2 1105.90L1516.1 1107.70L1517.0 1109.49L1517.9 1111.28L1518.8 1113.07L1519.7 1114.86L1520.6 1116.65L1521.5 1118.44L1522.4 1120.23L1523.3 1122.02L1524.2 1123.81L1525.2 1125.59L1526.1 1127.38L1527.0 1129.16L1527.9 1130.94L1528.8 1132.72L1529.7 1134.49L1530.7 1136.27L1531.6 1138.04L1532.5 1139.81L1533.5 1141.58L1534.4 1143.34L1535.4 1145.10L1536.3 1146.86L1537.3 1148.62L1538.2 1150.37L1539.2 1152.12L1540.2 1153.86L1541.2 1155.60L1542.2 1157.34L1543.2 1159.07L1544.2 1160.81L1545.2 1162.54L1546.2 1164.26L1547.2 1165.99L1548.2 1167.71L1549.3 1169.43L1550.3 1171.15L1551.3 1172.87L1552.4 1174.59L1553.4 1176.31L1554.4 1178.02L1555.5 1179.74L1556.5 1181.46L1557.5 1183.18L1558.5 1184.90L1559.6 1186.62L1560.6 1188.34L1561.6 1190.06L1562.6 1191.79L1563.6 1193.52L1564.6 1195.25L1565.7 1196.98L1566.7 1198.72L1567.7 1200.46L1568.6 1202.20L1569.6 1203.94L1570.6 1205.68L1571.6 1207.42L1572.6 1209.16L1573.6 1210.90L1574.6 1212.64L1575.6 1214.38L1576.6 1216.11L1577.6 1217.84L1578.7 1219.57L1579.7 1221.29L1580.7 1223.01L1581.7 1224.72L1582.8 1226.43L1583.8 1228.13L1584.9 1229.82L1586.0 1231.51L1587.0 1233.19L1588.1 1234.87L1589.2 1236.54L1590.3 1238.21L1591.4 1239.88L1592.5 1241.54L1593.7 1243.21L1594.8 1244.86L1595.9 1246.52L1597.1 1248.17L1598.2 1249.81L1599.4 1251.45L1600.6 1253.09L1601.7 1254.71L1602.9 1256.33L1604.1 1257.95L1605.3 1259.55L1606.5 1261.15L1607.7 1262.74L1608.9 1264.32L1610.2 1265.89L1611.4 1267.46L1612.7 1269.02L1613.9 1270.63L1615.2 1272.26L1616.4 1273.88L1617.7 1275.45L1619.1 1276.94L1620.5 1278.30L1622.0 1279.49L1623.6 1280.65L1625.3 1281.84L1627.1 1282.93L1629.0 1283.80L1630.9 1284.31L1632.8 1284.41L1634.7 1284.44L1636.6 1284.46L1638.6 1284.48L1640.6 1284.50L1642.6 1284.51L1644.6 1284.52L1646.6 1284.53L1648.7 1284.54L1650.7 1284.55L1652.8 1284.56L1654.8 1284.56L1656.8 1284.57L1658.9 1284.58L1660.9 1284.59L1662.9 1284.61L1664.9 1284.62L1666.9 1284.63L1668.9 1284.65L1670.9 1284.66L1672.9 1284.68L1674.9 1284.69L1676.9 1284.70L1678.9 1284.72L1680.9 1284.73L1682.9 1284.74L1684.9 1284.76L1686.9 1284.77L1688.9 1284.78L1690.9 1284.80L1692.9 1284.81L1694.9 1284.82L1696.9 1284.84L1698.9 1284.85L1700.9 1284.86L1702.9 1284.88L1704.9 1284.89L1706.9 1284.90L1708.9 1284.92L1711.0 1284.93L1713.0 1284.94L1715.0 1284.96L1717.0 1284.97L1719.0 1284.98L1721.0 1285.00L1723.0 1285.01L1725.0 1285.02L1727.0 1285.04L1729.0 1285.05L1731.0 1285.07L1733.0 1285.08L1735.0 1285.09L1737.0 1285.11L1739.0 1285.12L1741.0 1285.13L1743.0 1285.15L1745.0 1285.16L1747.0 1285.17L1749.0 1285.19L1751.0 1285.20"/>
</g>
<g font-family="'Liberation Sans', Arial, sans-serif" font-weight="bold" fill="#000">
<g font-size="53" text-anchor="end" letter-spacing="0.4">
<text x="170.8" y="52.8">100</text>
<text x="170.8" y="307.8">80</text>
<text x="170.8" y="562.8">60</text>
<text x="170.8" y="817.8">40</text>
<text x="170.8" y="1072.8">20</text>
<text x="170.8" y="1327.8">0</text>
</g>
<g font-size="53" text-anchor="middle" letter-spacing="0.5">
<text x="331.7" y="1407.5">100</text>
<text x="534.5" y="1407.5">200</text>
<text x="737.3" y="1407.5">300</text>
<text x="940.1" y="1407.5">400</text>
<text x="1142.9" y="1407.5">500</text>
<text x="1345.7" y="1407.5">600</text>
<text x="1548.5" y="1407.5">700</text>
<text x="1751.3" y="1407.5">800</text>
</g>
<text y="1482.3" font-size="60"><tspan x="805.5" letter-spacing="0.4">Temperature </tspan><tspan x="1186.5">(</tspan><tspan x="1208.5" dy="-30.5" font-size="31" font-weight="normal">o</tspan><tspan x="1227.7" dy="30.5">C)</tspan></text>
<text transform="translate(70.8 934.8) rotate(-90)" font-size="63" textLength="456" lengthAdjust="spacingAndGlyphs">Weight loss (%)</text>
<line x1="248" y1="878.7" x2="368.0" y2="878.7" stroke="#000" stroke-width="10" stroke-linecap="round"/>
<text x="382" y="896.5" font-size="50" letter-spacing="0.75">rGO aerogel</text>
<line x1="248" y1="944.6" x2="287.5" y2="944.6" stroke="#000" stroke-width="11.5" stroke-linecap="round"/>
<text y="962.4" font-size="50"><tspan x="382">Mn</tspan><tspan x="456" dy="20.5" font-size="27">2</tspan><tspan x="473.3" dy="-20.5">O</tspan><tspan x="513" dy="20.5" font-size="27">3</tspan><tspan x="530" dy="-20.5" letter-spacing="0.75">/rGO aerogel</tspan></text>
<line x1="248" y1="1027.6" x2="368.0" y2="1027.6" stroke="#f00" stroke-width="10" stroke-linecap="round"/>
<text x="382" y="1045.0" font-size="50" letter-spacing="0.75">N-rGO aerogel</text>
<line x1="248" y1="1093.4" x2="287.5" y2="1093.4" stroke="#f00" stroke-width="11.5" stroke-linecap="round"/>
<text y="1111.1" font-size="50"><tspan x="382">Mn</tspan><tspan x="456" dy="20.5" font-size="27">2</tspan><tspan x="473.3" dy="-20.5">O</tspan><tspan x="513" dy="20.5" font-size="27">3</tspan><tspan x="530" dy="-20.5" letter-spacing="0.75">/N-rGO aerogel</tspan></text>
<line x1="248" y1="1175.6" x2="368.0" y2="1175.6" stroke="#00f" stroke-width="10" stroke-linecap="round"/>
<text x="382" y="1193.8" font-size="50" letter-spacing="0.75">N,S-rGO aerogel</text>
<line x1="248" y1="1242.2" x2="287.5" y2="1242.2" stroke="#00f" stroke-width="11.5" stroke-linecap="round"/>
<text y="1260.0" font-size="50"><tspan x="382">Mn</tspan><tspan x="456" dy="20.5" font-size="27">2</tspan><tspan x="473.3" dy="-20.5">O</tspan><tspan x="513" dy="20.5" font-size="27">3</tspan><tspan x="530" dy="-20.5" letter-spacing="0.75">/N,S-rGO aeogel</tspan></text>
</g>
</svg>
</body></html>
